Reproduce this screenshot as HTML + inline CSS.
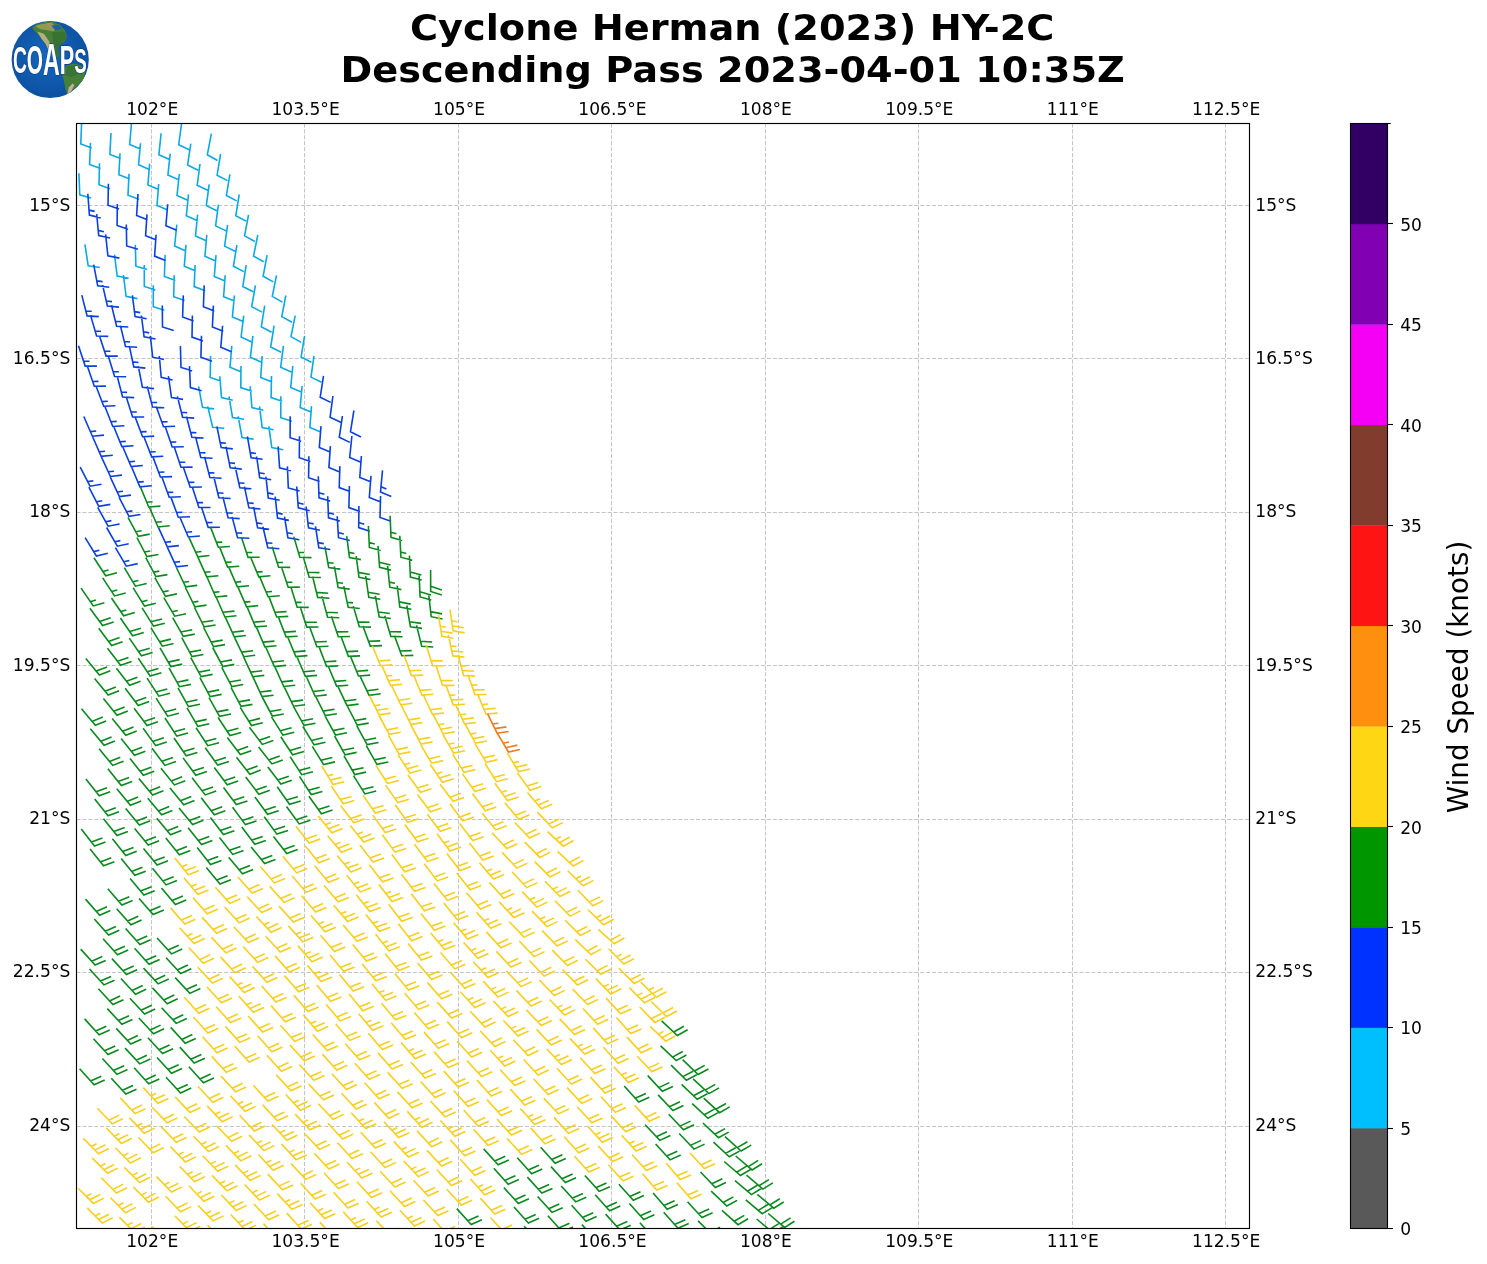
<!DOCTYPE html>
<html lang="en"><head><meta charset="utf-8"><title>Cyclone Herman (2023) HY-2C</title>
<style>html,body{margin:0;padding:0;background:#fff;}svg{display:block;will-change:transform;}</style></head>
<body>
<svg width="1487" height="1264" viewBox="0 0 1487 1264" font-family="'DejaVu Sans', 'Liberation Sans', sans-serif">
<rect x="0" y="0" width="1487" height="1264" fill="#ffffff"/>
<g id="logo">
<defs><clipPath id="globe"><circle cx="50.2" cy="59.5" r="38.6"/></clipPath><radialGradient id="sea" cx="45%" cy="45%" r="60%"><stop offset="0" stop-color="#1666bd"/><stop offset="1" stop-color="#0b4f9f"/></radialGradient></defs>
<circle cx="50.2" cy="59.5" r="38.6" fill="url(#sea)"/>
<g clip-path="url(#globe)"><polygon points="32.0,27.9 37.2,24.1 44.6,21.9 52.1,21.5 59.5,24.5 64.7,30.1 67.3,36.8 64.7,41.2 59.5,45.0 57.6,48.7 59.5,53.9 58.8,57.6 55.0,56.1 52.1,51.7 48.3,49.4 45.4,43.5 41.7,39.0 37.2,33.8" fill="#467f38"/><polygon points="52.1,32.3 64.0,31.6 66.9,36.8 64.0,41.2 59.5,45.0 57.6,48.7 59.5,53.9 58.8,57.6 55.0,56.1 53.6,45.7" fill="#3a7232"/><polygon points="37.2,31.6 43.9,33.8 49.1,41.2 52.1,50.2 48.3,49.4 45.4,43.5 41.7,39.0" fill="#b5b07a"/><polygon points="35.0,26.0 41.7,24.1 52.1,23.4 56.5,27.1 53.6,31.6 46.1,30.1 40.2,29.3" fill="#8f9a52"/><polygon points="44.6,23.4 52.1,22.6 54.3,27.1 48.3,27.5" fill="#a98f5c"/><polygon points="51.3,25.6 58.8,24.9 61.7,29.3 55.0,30.1" fill="#1e5fae"/><polygon points="66.6,65.4 74.4,63.6 81.1,65.8 85.5,71.0 84.0,78.4 78.8,85.1 72.1,90.3 67.3,94.4 65.5,89.6 64.0,81.4 62.5,75.5 63.6,69.5" fill="#467f38"/><polygon points="66.9,66.5 74.4,64.7 80.3,67.3 78.8,74.0 71.4,76.9 65.5,75.5" fill="#3a7433"/><polygon points="67.3,94.4 68.8,87.4 72.5,83.6 74.4,85.1 71.4,91.1" fill="#c4ae96"/></g>
<text transform="translate(12.9,72.6) scale(0.522,1)" paint-order="stroke" font-family="'Liberation Sans', 'DejaVu Sans', sans-serif" font-weight="bold" fill="#ffffff" stroke="#0a3470" stroke-opacity="0.75" stroke-width="1.3" stroke-linejoin="round" font-size="37"><tspan font-size="37">C</tspan><tspan font-size="40" dy="1">O</tspan><tspan font-size="44.5" dy="1.2">A</tspan><tspan font-size="41.5" dy="-0.8">P</tspan><tspan font-size="36" dy="-1.4">S</tspan></text>
</g>
<g id="title" font-weight="bold" font-size="36.3" text-anchor="middle" fill="#000">
<text transform="translate(732.2,40.4) scale(1.0545,1)">Cyclone Herman (2023) HY-2C</text>
<text transform="translate(732.6,82.0) scale(1.0545,1)">Descending Pass 2023-04-01 10:35Z</text>
</g>
<g id="grid" stroke="#9c9c9e" stroke-width="0.6" stroke-dasharray="4.1,1.8" fill="none">
<line x1="151.5" y1="123.5" x2="151.5" y2="1228.5"/>
<line x1="304.5" y1="123.5" x2="304.5" y2="1228.5"/>
<line x1="458.5" y1="123.5" x2="458.5" y2="1228.5"/>
<line x1="611.5" y1="123.5" x2="611.5" y2="1228.5"/>
<line x1="765.5" y1="123.5" x2="765.5" y2="1228.5"/>
<line x1="918.5" y1="123.5" x2="918.5" y2="1228.5"/>
<line x1="1072.5" y1="123.5" x2="1072.5" y2="1228.5"/>
<line x1="1225.5" y1="123.5" x2="1225.5" y2="1228.5"/>
<line x1="76.5" y1="205.5" x2="1249.5" y2="205.5"/>
<line x1="76.5" y1="358.5" x2="1249.5" y2="358.5"/>
<line x1="76.5" y1="512.5" x2="1249.5" y2="512.5"/>
<line x1="76.5" y1="665.5" x2="1249.5" y2="665.5"/>
<line x1="76.5" y1="819.5" x2="1249.5" y2="819.5"/>
<line x1="76.5" y1="972.5" x2="1249.5" y2="972.5"/>
<line x1="76.5" y1="1126.5" x2="1249.5" y2="1126.5"/>
</g>
<defs><clipPath id="axclip"><rect x="76.5" y="123.5" width="1173.0" height="1105.0"/></clipPath></defs>
<g id="barbs" clip-path="url(#axclip)" fill="none" stroke-width="1.6" stroke-linecap="butt" stroke-linejoin="miter">
<path stroke="#0aa9e6" d="M81.6,122.5L80.8,144.0L91.7,148.1M131.5,123.0L129.7,144.4L140.5,148.9M111.0,133.0L109.9,154.4L120.8,158.6M90.5,142.9L89.6,164.4L100.5,168.5M181.6,123.4L178.7,144.7L189.2,149.8M161.1,133.4L158.9,154.7L169.5,159.5M140.5,143.3L138.6,164.8L149.3,169.4M120.0,153.3L118.9,174.8L129.9,179.0M99.5,163.3L99.0,184.8L110.0,188.7M78.9,173.3L79.8,194.8L91.1,197.9M211.4,133.7L207.3,154.8L217.5,160.5M190.8,143.7L187.6,165.0L198.1,170.2M170.2,153.7L167.9,175.1L178.6,179.8M149.6,163.7L147.9,185.1L158.7,189.6M129.0,173.7L128.0,195.2L138.9,199.3M220.6,154.0L217.1,175.2L227.5,180.6M200.0,164.0L197.2,185.3L207.7,190.3M179.3,174.0L177.0,195.4L187.7,200.2M158.7,184.0L157.0,205.5L167.8,209.9M229.9,174.3L226.4,195.5L236.7,200.9M209.2,184.3L206.3,205.6L216.8,210.7M188.5,194.3L186.3,215.7L197.0,220.4M84.9,244.4L88.2,265.7L99.8,267.5M239.2,194.5L235.8,215.8L246.2,221.1M218.4,204.6L215.6,225.9L226.1,230.9M197.6,214.6L195.5,236.0L206.2,240.7M176.8,224.6L174.6,246.0L185.3,250.7M135.3,244.7L135.9,266.2L147.1,269.5M114.5,254.7L117.2,276.1L128.6,278.3M248.5,214.8L244.6,235.9L254.9,241.5M227.6,224.8L224.6,246.1L235.0,251.2M206.8,234.9L204.9,256.3L215.6,260.9M186.0,244.9L184.3,266.3L195.1,270.8M165.1,254.9L164.4,276.4L175.4,280.4M144.3,265.0L144.3,286.5L155.4,290.1M123.4,275.0L126.1,296.4L137.5,298.6M257.8,235.0L253.5,256.1L263.7,261.8M236.9,245.0L233.4,266.3L243.8,271.6M216.0,255.1L214.3,276.5L225.1,281.0M195.1,265.1L194.2,286.6L205.2,290.7M174.2,275.2L173.7,296.7L184.7,300.5M153.3,285.2L153.3,306.7L164.4,310.3M267.1,255.2L263.1,276.3L273.3,281.9M246.2,265.2L242.8,286.5L253.2,291.8M225.2,275.3L223.6,296.7L234.5,301.1M276.5,275.4L272.3,296.4L282.4,302.1M255.4,285.4L251.7,306.6L262.0,312.1M234.4,295.5L232.4,316.9L243.2,321.5M285.8,295.5L281.8,316.6L292.0,322.3M264.7,305.6L261.3,326.8L271.6,332.2M243.7,315.7L241.1,337.0L251.7,341.9M295.2,315.6L291.0,336.7L301.2,342.4M274.1,325.7L270.7,347.0L281.1,352.3M252.9,335.8L250.4,357.2L261.0,362.1M231.8,345.9L230.0,367.3L240.8,371.8M210.6,356.0L210.2,377.5L221.2,381.3M304.6,335.8L301.1,357.0L311.4,362.3M283.4,345.9L280.7,367.2L291.3,372.1M262.2,356.0L260.7,377.4L271.5,381.8M241.0,366.1L240.8,387.6L251.9,391.2M219.8,376.2L221.5,397.6L232.8,400.3M198.6,386.3L202.5,407.4L214.1,408.9M314.0,355.8L311.0,377.1L321.5,382.3M292.8,366.0L290.7,387.4L301.4,392.0M271.5,376.1L271.1,397.6L282.2,401.3M250.2,386.2L251.9,407.6L263.3,410.3M229.0,396.3L232.5,417.5L244.0,419.3M207.7,406.4L212.7,427.3L224.3,428.3M302.1,386.0L300.2,407.4L310.9,412.0M280.8,396.2L280.8,417.7L291.9,421.3M259.5,406.3L262.2,427.6L273.6,429.8M238.2,416.4L242.0,437.5L253.6,439.1M311.5,406.1L309.9,427.5L320.7,432.0M268.8,426.4L271.8,447.6L283.3,449.7"/>
<path stroke="#0a3fe0" d="M108.4,183.7L108.0,205.2L119.0,209.0M87.8,193.7L89.4,215.1L100.7,217.9M89.0,210.1L94.7,211.4M138.0,194.0L136.6,215.5L147.5,219.8M117.3,204.1L117.1,225.5L128.1,229.3M96.7,214.1L98.7,235.5L110.1,238.0M98.2,230.4L103.9,231.7M167.7,204.3L165.9,225.8L176.7,230.3M147.0,214.4L145.6,235.8L156.5,240.1M126.3,224.4L126.7,245.9L137.9,249.3M105.6,234.4L107.9,255.8L119.4,258.1M156.1,234.7L154.6,256.1L165.5,260.4M93.7,264.7L97.7,285.9L109.3,287.3M96.8,280.9L102.6,281.6M102.6,285.1L107.4,306.0L119.0,307.1M106.2,301.0L112.0,301.6M81.8,295.1L87.1,315.9L98.8,316.6M85.9,311.0L91.7,311.3M132.4,295.3L135.1,316.6L146.6,318.8M134.4,311.6L140.2,312.6M111.5,305.3L116.6,326.2L128.3,327.0M115.4,321.3L121.2,321.7M90.6,315.4L96.6,336.0L108.3,336.4M95.2,331.1L101.0,331.3M204.2,285.4L203.4,306.8L214.3,310.9M183.3,295.4L182.6,316.9L193.6,320.9M162.3,305.5L162.5,327.0L173.7,330.5M141.4,315.5L144.1,336.9L155.6,339.0M143.5,331.8L149.2,332.9M120.4,325.6L125.5,346.5L137.1,347.3M124.3,341.5L130.1,342.0M99.4,335.7L106.1,356.1L117.8,356.1M104.5,351.3L110.4,351.2M78.5,345.7L85.2,366.1L96.9,366.1M83.6,361.3L89.5,361.3M213.4,305.6L212.4,327.0L223.3,331.2M192.4,315.6L192.0,337.1L203.0,341.0M150.3,335.8L152.7,357.2L164.1,359.5M129.3,345.8L133.8,366.9L145.4,368.1M132.7,361.9L138.5,362.5M108.3,355.9L114.6,376.5L126.2,376.7M113.1,371.6L118.9,371.7M87.3,366.0L94.3,386.3L105.9,386.1M92.6,381.5L98.4,381.4M222.6,325.8L220.8,347.2L231.5,351.7M201.5,335.8L200.9,357.3L211.9,361.2M180.4,345.9L181.0,367.4L192.2,370.7M159.3,356.0L161.2,377.4L172.6,380.0M138.3,366.1L142.4,387.2L154.0,388.6M117.2,376.2L122.6,397.0L134.2,397.6M121.3,392.0L127.1,392.4M96.1,386.2L103.7,406.3L115.4,405.8M101.9,401.6L107.8,401.3M189.5,366.1L190.4,387.6L201.6,390.7M168.4,376.2L171.5,397.5L183.0,399.4M147.2,386.3L152.6,407.1L164.2,407.8M151.3,402.2L157.1,402.5M126.1,396.4L132.6,416.9L144.2,417.0M131.0,412.0L136.8,412.0M104.9,406.5L112.8,426.5L124.4,425.8M110.9,421.7L116.7,421.4M83.8,416.5L92.4,436.2L104.0,435.1M90.4,431.6L96.2,431.0M177.4,396.4L182.6,417.2L194.2,418.1M181.3,412.3L187.2,412.7M156.2,406.5L163.5,426.7L175.1,426.3M161.7,421.9L167.6,421.7M135.0,416.6L142.6,436.7L154.2,436.1M140.8,431.9L146.6,431.6M113.8,426.7L121.9,446.6L133.5,445.7M120.0,441.8L125.8,441.4M92.6,436.8L101.2,456.4L112.8,455.3M99.2,451.8L105.0,451.2M186.5,416.5L191.9,437.3L203.6,438.0M190.6,432.4L196.4,432.7M165.2,426.6L172.2,447.0L183.8,446.8M170.5,442.1L176.3,442.0M143.9,436.7L151.7,456.8L163.3,456.2M149.8,452.0L155.7,451.7M122.7,446.8L131.2,466.6L142.8,465.5M129.2,461.9L135.0,461.3M101.4,456.9L110.4,476.5L122.0,475.1M108.3,471.8L114.1,471.2M80.2,467.1L90.0,486.2L101.5,484.2M87.7,481.6L93.4,480.7M323.5,375.9L320.2,397.2L330.7,402.4M216.9,426.5L221.2,447.6L232.8,448.9M220.1,442.6L225.9,443.2M195.5,436.6L200.8,457.5L212.5,458.2M199.6,452.5L205.4,452.9M174.2,446.8L181.0,467.2L192.6,467.1M179.4,462.3L185.2,462.3M152.9,456.9L160.4,477.0L172.0,476.6M158.6,472.3L164.4,472.0M131.6,467.0L139.9,486.8L151.6,485.8M138.0,482.1L143.8,481.6M110.3,477.1L119.4,496.6L131.0,495.1M117.2,492.0L123.0,491.2M88.9,487.2L98.8,506.3L110.3,504.4M96.5,501.8L102.2,500.8M332.9,396.0L330.1,417.3L340.7,422.3M290.2,416.2L290.1,437.7L301.2,441.3M247.4,436.5L251.1,457.7L262.6,459.3M250.2,452.6L256.0,453.5M226.0,446.6L230.2,467.7L241.8,469.1M229.2,462.7L235.0,463.4M204.6,456.7L209.9,477.6L221.6,478.3M208.7,472.6L214.5,473.0M183.3,466.9L190.2,487.2L201.9,487.0M188.6,482.4L194.4,482.3M161.9,477.0L169.2,497.2L180.9,496.8M167.5,492.4L173.3,492.2M119.1,497.3L129.0,516.4L140.5,514.5M126.6,511.8L132.4,510.9M97.7,507.4L108.1,526.2L119.6,524.0M105.7,521.7L111.4,520.6M342.4,416.0L339.3,437.3L349.8,442.4M321.0,426.1L319.3,447.6L330.1,452.0M299.5,436.3L299.3,457.8L310.4,461.5M278.1,446.4L279.6,467.9L290.9,470.7M256.6,456.5L259.7,477.8L271.2,479.8M259.0,472.8L264.7,473.8M235.2,466.7L239.8,487.7L251.4,488.8M238.7,482.7L244.5,483.3M213.8,476.8L218.9,497.7L230.6,498.5M217.7,492.7L223.5,493.2M192.3,487.0L198.9,507.5L210.5,507.5M197.3,502.6L203.1,502.6M170.9,497.1L178.3,517.3L190.0,516.8M176.6,512.5L182.4,512.3M106.6,527.5L117.3,546.2L128.7,543.8M114.7,541.8L120.4,540.6M85.1,537.7L96.4,556.0L107.8,553.2M93.7,551.6L99.4,550.2M353.9,410.5L350.5,431.7L361.0,437.0M351.9,436.0L349.7,457.4L360.3,462.1M330.4,446.1L328.9,467.6L339.7,472.0M308.9,456.3L308.6,477.8L319.7,481.5M287.4,466.4L288.3,487.9L299.6,491.0M265.9,476.6L268.3,498.0L279.7,500.3M267.7,492.9L273.5,494.1M244.4,486.7L248.9,507.8L260.5,509.0M247.8,502.8L253.7,503.4M222.9,496.9L228.1,517.8L239.7,518.6M226.9,512.8L232.7,513.2M201.4,507.0L208.2,527.4L219.9,527.3M206.6,522.6L212.5,522.5M179.9,517.2L188.3,537.0L199.9,536.0M186.3,532.3L192.1,531.8M158.4,527.3L167.3,546.9L178.9,545.6M165.2,542.3L171.0,541.6M115.4,547.6L126.3,566.2L137.7,563.6M123.7,561.8L129.4,560.5M361.4,456.0L359.8,477.4L370.7,481.8M339.9,466.1L339.2,487.6L350.1,491.6M318.3,476.3L319.0,497.8L330.2,501.0M318.8,492.7L324.4,494.3M296.7,486.5L298.3,507.9L309.7,510.7M297.9,502.8L303.6,504.2M275.2,496.6L277.5,518.0L288.9,520.4M276.9,512.9L282.6,514.1M253.6,506.8L257.6,527.9L269.2,529.4M256.6,522.9L262.4,523.7M232.1,516.9L237.6,537.7L249.3,538.3M236.3,532.8L242.1,533.1M167.4,547.4L176.4,566.9L188.0,565.5M174.3,562.3L180.1,561.6M371.0,475.9L369.3,497.4L380.1,501.8M349.4,486.1L348.9,507.6L360.0,511.4M327.7,496.3L328.5,517.8L339.8,521.0M328.3,512.7L334.0,514.3M306.1,506.5L308.5,527.8L319.9,530.2M307.9,522.8L313.6,523.9M284.5,516.6L287.9,537.9L299.4,539.7M287.1,532.8L292.8,533.7M262.9,526.8L267.8,547.7L279.4,548.7M266.6,542.8L272.4,543.2M382.5,470.4L380.5,491.9L391.3,496.4M381.0,486.8L386.4,489.1M380.6,495.9L380.0,517.4L391.0,521.3M358.9,506.1L358.7,527.6L369.8,531.2M358.8,522.5L364.3,524.3M337.2,516.2L338.5,537.7L349.8,540.6M338.2,532.6L343.8,534.1M315.5,526.4L318.8,547.7L330.3,549.5M318.0,542.6L323.8,543.6"/>
<path stroke="#0a8a1e" d="M140.5,487.1L148.7,507.0L160.4,506.1M146.8,502.3L152.6,501.8M149.4,507.2L158.0,527.0L169.7,525.8M156.0,522.3L161.8,521.7M128.0,517.4L138.3,536.3L149.7,534.1M135.8,531.8L141.6,530.7M136.9,537.5L146.9,556.5L158.4,554.5M144.6,552.0L150.3,551.0M93.9,557.8L105.7,575.8L117.0,572.7M102.9,571.5L108.5,570.0M210.5,527.1L218.3,547.2L229.9,546.5M216.4,542.4L222.2,542.1M188.9,537.3L197.8,556.8L209.4,555.5M195.7,552.2L201.5,551.5M145.8,557.6L155.9,576.6L167.4,574.6M153.5,572.1L159.3,571.1M124.3,567.7L135.4,586.2L146.7,583.5M132.7,581.8L138.4,580.5M102.7,577.9L114.5,595.9L125.7,592.9M111.7,591.6L117.3,590.1M81.1,588.1L93.2,605.9L104.4,602.7M90.3,601.7L95.9,600.1M241.3,537.0L248.1,557.4L259.7,557.2M246.5,552.5L252.3,552.5M219.6,547.1L227.6,567.1L239.3,566.3M225.7,562.4L231.6,562.0M198.0,557.3L206.8,576.9L218.4,575.7M204.7,572.3L210.5,571.7M176.4,567.5L185.6,586.9L197.2,585.4M183.4,582.3L189.2,581.5M154.8,577.6L165.5,596.3L176.9,593.9M162.9,591.9L168.7,590.7M133.2,587.8L144.5,606.1L155.8,603.3M141.8,601.7L147.5,600.3M111.5,598.0L123.6,615.8L134.8,612.5M120.7,611.6L126.3,609.9M89.9,608.2L102.6,625.5L113.7,621.9M99.6,621.4L110.7,617.8M293.8,536.6L299.8,557.3L311.5,557.6M298.4,552.4L304.2,552.5M272.2,546.8L278.6,567.3L290.2,567.4M277.0,562.4L282.9,562.5M250.5,557.0L258.8,576.8L270.4,575.8M256.8,572.1L262.6,571.6M228.8,567.1L237.4,586.8L249.0,585.7M235.4,582.2L241.2,581.6M207.1,577.3L215.7,597.0L227.3,595.9M213.7,592.4L219.5,591.8M185.4,587.5L194.9,606.8L206.5,605.1M192.7,602.2L198.4,601.4M163.8,597.7L174.7,616.2L186.1,613.7M172.1,611.8L177.8,610.5M142.1,607.9L153.5,626.1L164.8,623.3M150.8,621.8L162.1,618.9M120.4,618.0L132.6,635.7L143.8,632.4M129.7,631.5L140.9,628.2M98.7,628.2L111.6,645.5L122.6,641.7M108.5,641.4L119.6,637.6M390.1,515.8L391.0,537.3L402.2,540.5M390.8,532.2L396.4,533.8M368.4,526.0L369.4,547.5L380.7,550.5M369.2,542.4L374.8,543.9M346.7,536.2L349.5,557.5L360.9,559.6M348.8,552.4L354.5,553.5M324.9,546.4L328.7,567.5L340.3,569.1M327.8,562.5L333.6,563.3M303.2,556.6L309.2,577.2L320.9,577.5M307.8,572.3L319.5,572.6M281.4,566.8L288.2,587.2L299.8,587.1M286.6,582.3L292.4,582.3M259.7,576.9L268.1,596.7L279.8,595.7M266.1,592.0L272.0,591.5M238.0,587.1L246.6,606.8L258.2,605.6M244.6,602.1L250.4,601.6M216.2,597.3L224.9,617.0L236.5,615.8M222.9,612.3L234.5,611.1M194.5,607.5L204.1,626.8L215.6,625.0M201.8,622.2L213.4,620.5M172.7,617.7L183.3,636.4L194.8,634.1M180.8,632.0L192.2,629.7M151.0,627.9L162.3,646.2L173.6,643.5M159.6,641.9L170.9,639.1M129.3,638.1L141.4,655.8L152.6,652.5M138.5,651.6L149.7,648.3M107.5,648.3L120.6,665.3L131.6,661.4M117.5,661.3L128.5,657.4M85.8,658.5L99.4,675.1L110.3,670.8M96.2,671.1L107.1,666.9M399.8,535.7L400.9,557.2L412.2,560.2M400.6,552.1L406.3,553.6M378.0,545.9L379.6,567.4L390.9,570.1M379.2,562.3L390.5,565.0M356.2,556.1L359.0,577.4L370.5,579.5M358.3,572.4L369.8,574.5M334.4,566.3L338.1,587.5L349.7,589.1M337.2,582.5L343.0,583.3M312.6,576.5L317.7,597.4L329.4,598.2M316.5,592.4L328.2,593.3M290.8,586.7L297.2,607.2L308.8,607.4M295.7,602.4L301.5,602.4M269.0,596.9L276.7,617.0L288.3,616.4M274.9,612.2L286.5,611.6M247.2,607.1L255.5,626.9L267.1,626.0M253.5,622.2L265.1,621.3M225.4,617.3L234.3,636.9L245.9,635.5M232.2,632.2L243.8,630.9M203.6,627.5L213.5,646.6L225.0,644.6M211.1,642.1L222.7,640.1M181.8,637.7L192.0,656.6L203.5,654.5M189.6,652.1L201.1,650.0M160.0,647.9L170.8,666.5L182.2,664.1M168.2,662.1L179.6,659.6M138.2,658.1L150.1,676.0L161.4,672.8M147.3,671.7L158.5,668.5M116.4,668.3L129.6,685.3L140.5,681.3M126.4,681.3L137.4,677.3M94.6,678.5L108.2,695.1L119.1,690.8M105.0,691.2L115.9,686.9M409.4,555.6L410.4,577.1L421.7,580.1M410.2,572.0L421.4,575.0M387.6,565.8L389.8,587.2L401.3,589.6M389.3,582.1L395.0,583.3M365.7,576.0L368.8,597.3L380.3,599.2M368.1,592.2L379.6,594.2M343.8,586.2L348.2,607.3L359.8,608.5M347.2,602.3L353.0,602.9M322.0,596.4L327.6,617.2L339.3,617.7M326.3,612.3L337.9,612.8M300.1,606.6L306.8,627.1L318.5,627.0M305.2,622.2L316.9,622.2M278.3,616.9L286.1,636.9L297.7,636.2M284.2,632.1L295.9,631.4M256.4,627.1L264.9,646.8L276.5,645.7M262.9,642.1L274.5,641.1M234.5,637.3L243.7,656.7L255.2,655.3M241.5,652.1L253.1,650.7M212.7,647.5L222.8,666.5L234.3,664.4M220.4,662.0L231.9,659.9M190.8,657.7L201.1,676.6L212.6,674.4M198.7,672.1L210.1,670.0M169.0,667.9L179.5,686.7L190.9,684.4M177.0,682.2L188.4,679.9M147.1,678.1L158.8,696.2L170.0,693.2M156.0,691.9L167.3,688.9M125.2,688.3L138.2,705.5L149.2,701.6M135.1,701.4L146.2,697.6M103.4,698.5L117.0,715.2L127.8,711.0M113.7,711.2L124.6,707.0M81.5,708.7L95.3,725.3L106.1,720.9M92.0,721.4L102.8,717.0M419.1,575.4L420.1,596.9L431.3,600.0M419.8,591.8L431.1,594.9M397.2,585.7L399.8,607.0L411.3,609.2M399.2,601.9L410.7,604.1M375.3,595.9L379.2,617.0L390.8,618.5M378.3,612.0L389.8,613.5M353.3,606.1L359.3,626.8L371.0,627.1M357.9,621.9L369.6,622.2M331.4,616.3L338.3,636.7L350.0,636.5M336.7,631.9L348.4,631.7M309.5,626.5L316.9,646.7L328.5,646.3M315.1,642.0L326.8,641.5M287.6,636.8L295.9,656.6L307.5,655.6M293.9,651.9L305.6,650.9M265.7,647.0L274.4,666.6L286.0,665.4M272.3,662.0L283.9,660.8M243.7,657.2L252.7,676.7L264.3,675.4M250.6,672.1L262.2,670.7M221.8,667.4L231.8,686.5L243.3,684.5M229.4,682.0L240.9,680.0M199.9,677.6L210.1,696.6L221.6,694.4M207.7,692.1L219.2,689.9M178.0,687.9L188.5,706.6L200.0,704.3M186.0,702.2L197.5,699.8M156.1,698.1L167.6,716.2L178.9,713.3M164.9,711.9L176.2,709.0M134.1,708.3L147.0,725.6L158.0,721.8M143.9,721.5L155.0,717.7M112.2,718.5L125.8,735.2L136.7,731.0M122.6,731.2L133.5,727.0M90.3,728.7L104.1,745.3L114.9,740.9M100.8,741.3L111.6,737.0M430.6,569.9L430.7,591.4L441.8,595.0M430.7,586.3L441.8,589.9M428.8,595.3L431.2,616.7L442.6,619.0M430.6,611.6L442.1,613.9M406.8,605.5L410.4,626.7L422.0,628.4M409.6,621.7L421.1,623.4M384.8,615.7L390.8,636.4L402.5,636.7M389.4,631.5L401.1,631.9M362.9,626.0L370.3,646.1L382.0,645.6M368.6,641.3L380.2,640.9M340.9,636.2L348.4,656.4L360.0,655.9M346.6,651.6L358.2,651.1M318.9,646.4L326.6,666.5L338.2,665.9M324.8,661.8L336.4,661.1M296.9,656.7L305.4,676.4L317.0,675.4M303.4,671.7L315.0,670.7M274.9,666.9L283.7,686.5L295.3,685.3M281.6,681.9L293.2,680.6M253.0,677.1L262.0,696.6L273.6,695.2M259.9,692.0L271.5,690.6M231.0,687.4L241.0,706.4L252.5,704.4M238.6,701.9L250.1,699.9M209.0,697.6L219.5,716.3L231.0,714.0M217.0,711.9L228.5,709.6M187.0,707.8L197.9,726.3L209.3,723.8M195.4,721.9L206.7,719.4M165.0,718.0L176.8,736.1L188.0,733.0M174.0,731.8L185.2,728.8M143.1,728.3L155.8,745.6L166.8,742.0M152.7,741.5L163.8,737.8M121.1,738.5L134.5,755.3L145.4,751.2M131.3,751.3L142.2,747.3M99.1,748.7L112.7,765.4L123.6,761.2M109.5,761.4L120.3,757.2M416.5,625.3L421.7,646.2L433.3,647.0M420.5,641.3L432.1,642.0M394.4,635.6L401.8,655.8L413.4,655.4M400.0,651.0L411.7,650.6M350.4,656.1L358.5,676.0L370.2,675.1M356.6,671.2L368.2,670.4M328.3,666.3L336.6,686.1L348.2,685.2M334.6,681.4L346.3,680.5M306.3,676.5L315.1,696.2L326.7,694.9M313.0,691.5L324.6,690.3M284.2,686.8L293.5,706.2L305.1,704.7M291.3,701.6L302.9,700.1M262.2,697.0L272.3,716.0L283.8,714.0M269.9,711.5L281.4,709.5M240.2,707.3L251.5,725.5L262.8,722.7M248.8,721.2L260.1,718.4M218.1,717.5L229.9,735.5L241.2,732.4M227.1,731.2L238.4,728.2M196.1,727.7L207.8,745.7L219.1,742.7M205.1,741.5L216.3,738.4M174.0,738.0L186.2,755.7L197.4,752.4M183.4,751.5L194.5,748.2M152.0,748.2L164.9,765.4L176.0,761.6M161.9,761.3L172.9,757.5M130.0,758.5L143.3,775.3L154.2,771.3M140.1,771.3L151.1,767.3M107.9,768.7L121.3,785.5L132.2,781.4M118.1,781.5L129.1,777.4M85.9,778.9L99.2,795.8L110.1,791.8M96.0,791.8L107.0,787.8M359.9,675.9L369.1,695.3L380.7,693.8M367.0,690.7L378.5,689.2M337.8,686.2L347.0,705.6L358.6,704.1M344.8,701.0L356.4,699.5M315.7,696.4L325.3,715.6L336.9,713.8M323.0,711.1L334.6,709.3M293.6,706.7L304.0,725.4L315.5,723.2M301.5,721.0L313.0,718.7M271.5,716.9L283.0,735.1L294.3,732.2M280.3,730.8L291.6,727.8M249.4,727.2L262.3,744.4L273.3,740.6M259.2,740.3L270.2,736.5M227.3,737.4L240.3,754.5L251.3,750.7M237.2,750.5L248.2,746.6M205.2,747.7L217.7,765.1L228.9,761.5M214.8,761.0L225.9,757.4M183.1,757.9L195.8,775.2L206.9,771.5M192.8,771.1L203.9,767.4M161.0,768.2L174.4,784.9L185.3,780.8M171.2,780.9L182.2,776.8M138.9,778.4L152.6,795.0L163.4,790.7M149.3,791.1L160.2,786.8M116.8,788.7L130.4,805.3L141.2,801.1M127.1,801.4L138.0,797.1M94.7,798.9L108.0,815.8L119.0,811.7M104.9,811.8L115.8,807.7M347.3,706.0L357.2,725.1L368.7,723.1M354.8,720.5L366.3,718.6M325.1,716.2L335.5,735.0L347.0,732.8M333.1,730.6L344.5,728.3M302.9,726.5L314.1,744.9L325.5,742.2M311.5,740.5L322.8,737.8M280.8,736.8L292.6,754.7L303.9,751.6M289.8,750.4L301.1,747.3M258.6,747.0L271.9,763.9L282.8,759.9M268.7,759.9L279.7,755.9M236.5,757.3L249.8,774.2L260.7,770.1M246.6,770.1L257.6,766.1M214.3,767.5L227.2,784.7L238.2,781.0M224.1,780.7L235.2,776.9M192.1,777.8L205.2,794.9L216.2,791.0M202.1,790.8L213.1,786.9M170.0,788.1L183.7,804.7L194.5,800.4M180.4,800.7L191.3,796.4M147.8,798.3L161.6,814.8L172.4,810.5M158.3,810.9L169.2,806.5M125.7,808.6L139.4,825.1L150.2,820.8M136.1,821.2L147.0,816.9M103.5,818.8L117.0,835.6L127.9,831.5M113.8,831.6L124.7,827.5M81.3,829.1L94.5,846.1L105.5,842.1M91.4,842.0L102.4,838.1M356.8,725.8L367.1,744.6L378.6,742.5M364.7,740.2L376.1,738.0M334.6,736.0L345.1,754.8L356.6,752.4M342.6,750.3L354.1,748.0M312.3,746.3L323.6,764.6L335.0,761.9M320.9,760.3L332.3,757.5M290.1,756.6L301.7,774.7L313.0,771.7M299.0,770.4L310.3,767.4M267.9,766.9L280.8,784.1L291.8,780.3M277.7,780.0L288.8,776.2M245.7,777.1L258.8,794.2L269.8,790.3M255.7,790.1L266.7,786.2M223.5,787.4L236.3,804.6L247.4,800.9M233.3,800.5L244.3,796.8M201.2,797.7L214.3,814.7L225.3,810.8M211.2,810.7L222.2,806.8M179.0,807.9L192.6,824.6L203.5,820.3M189.4,820.6L200.3,816.4M156.8,818.2L170.5,834.7L181.4,830.4M167.3,830.8L178.1,826.5M134.6,828.5L148.3,845.1L159.1,840.8M145.0,841.1L155.9,836.8M112.4,838.7L125.8,855.5L136.7,851.3M122.6,851.5L133.5,847.4M90.1,849.0L103.5,865.8L114.4,861.8M100.3,861.9L111.3,857.8M366.3,745.6L376.9,764.3L388.3,762.0M374.4,759.9L385.8,757.5M344.0,755.8L354.7,774.5L366.1,772.1M352.2,770.1L363.6,767.7M299.5,776.4L311.2,794.5L322.4,791.4M308.4,790.2L319.7,787.2M277.2,786.7L289.5,804.3L300.7,800.9M286.6,800.1L297.8,796.7M254.9,797.0L267.6,814.3L278.7,810.7M264.6,810.2L275.7,806.6M232.6,807.2L245.4,824.6L256.5,820.9M242.4,820.5L253.4,816.8M210.4,817.5L223.4,834.6L234.4,830.8M220.3,830.6L231.3,826.7M188.1,827.8L201.5,844.6L212.4,840.5M198.3,840.6L209.2,836.5M165.8,838.1L179.4,854.8L190.3,850.5M176.2,850.8L187.0,846.6M143.5,848.4L157.1,865.0L168.0,860.8M153.9,861.1L164.7,856.9M121.2,858.6L134.8,875.3L145.7,871.2M131.6,871.4L142.5,867.2M353.5,775.6L364.9,793.9L376.2,791.0M362.2,789.5L373.5,786.7M308.9,796.2L321.4,813.7L332.5,810.1M318.4,809.5L329.5,806.0M286.5,806.5L299.2,823.9L310.3,820.2M296.2,819.7L307.3,816.1M264.2,816.8L276.9,834.1L288.0,830.4M273.9,830.0L285.0,826.3M241.8,827.1L254.8,844.2L265.8,840.4M251.7,840.2L262.7,836.4M219.5,837.4L232.7,854.4L243.6,850.4M229.5,850.3L240.5,846.4M197.2,847.6L210.5,864.5L221.5,860.4M207.4,860.5L218.3,856.4M152.5,868.2L166.1,884.9L177.0,880.6M162.9,880.9L173.7,876.7M130.1,878.5L143.9,895.0L154.7,890.7M140.6,891.1L151.5,886.8M107.8,888.8L121.9,905.1L132.6,900.6M118.5,901.2L129.3,896.7M85.5,899.1L99.7,915.2L110.4,910.6M96.3,911.4L107.0,906.7M273.5,836.6L286.7,853.5L297.7,849.5M283.6,849.5L294.6,845.5M251.1,846.9L264.6,863.6L275.5,859.5M261.4,859.6L272.3,855.5M228.7,857.2L242.4,873.8L253.2,869.5M239.1,869.8L250.0,865.5M206.3,867.5L220.0,884.0L230.9,879.7M216.8,880.1L227.6,875.7M161.5,888.1L175.4,904.5L186.2,900.0M172.1,900.6L182.9,896.1M139.1,898.4L153.1,914.6L163.9,910.1M149.8,910.8L160.6,906.3M116.7,908.7L130.9,924.8L141.6,920.1M127.6,920.9L138.3,916.3M94.3,919.0L108.6,935.0L119.3,930.2M105.2,931.2L115.9,926.4M125.6,928.5L139.9,944.5L150.6,939.8M136.5,940.7L147.2,936.0M103.1,938.8L117.5,954.8L128.2,950.1M114.1,951.0L124.8,946.3M80.7,949.1L95.1,965.1L105.7,960.4M91.7,961.3L102.3,956.6M157.1,938.0L171.5,953.9L182.2,949.1M168.1,950.1L178.7,945.3M134.6,948.3L149.0,964.3L159.6,959.5M145.5,960.5L156.2,955.7M112.0,958.6L126.4,974.6L137.1,969.8M123.0,970.8L133.7,966.0M89.5,969.0L103.9,984.9L114.6,980.2M100.5,981.1L111.1,976.4M166.1,957.8L180.7,973.6L191.3,968.7M177.2,969.9L187.8,965.0M143.5,968.1L158.1,983.9L168.7,979.1M154.6,980.2L165.2,975.3M120.9,978.5L135.5,994.2L146.1,989.3M132.1,990.5L142.7,985.6M98.4,988.8L112.9,1004.6L123.5,999.8M109.5,1000.9L120.1,996.0M175.2,977.6L189.8,993.4L200.4,988.5M186.3,989.6L196.9,984.7M152.5,987.9L167.2,1003.7L177.7,998.8M163.7,999.9L174.3,995.0M129.9,998.2L144.6,1014.0L155.1,1009.0M141.1,1010.2L151.7,1005.3M107.3,1008.6L121.9,1024.3L132.5,1019.4M118.4,1020.6L129.0,1015.7M84.6,1018.9L99.1,1034.8L109.8,1029.9M95.7,1031.0L106.3,1026.2M161.6,1007.7L176.2,1023.4L186.8,1018.5M172.7,1019.7L183.3,1014.8M138.9,1018.0L153.5,1033.8L164.1,1028.8M150.1,1030.0L160.6,1025.1M116.2,1028.4L130.8,1044.1L141.4,1039.2M127.3,1040.4L137.9,1035.5M93.5,1038.7L108.0,1054.6L118.6,1049.7M104.6,1050.8L115.2,1046.0M170.7,1027.4L185.2,1043.2L195.8,1038.4M181.7,1039.5L192.4,1034.6M147.9,1037.8L162.5,1053.6L173.1,1048.7M159.0,1049.8L169.6,1044.9M125.1,1048.1L139.7,1063.9L150.3,1059.1M136.2,1060.2L146.9,1055.3M102.4,1058.5L116.9,1074.4L127.5,1069.5M113.4,1070.6L124.1,1065.8M79.6,1068.8L94.1,1084.8L104.7,1080.0M90.6,1081.0L101.3,1076.2M179.8,1047.1L194.2,1063.0L204.9,1058.2M190.8,1059.2L201.4,1054.4M157.0,1057.5L171.5,1073.3L182.1,1068.5M168.0,1069.6L178.6,1064.7M134.1,1067.8L148.7,1083.7L159.3,1078.9M145.2,1079.9L155.8,1075.1M111.3,1078.2L125.8,1094.1L136.5,1089.2M122.4,1090.3L133.0,1085.5M188.9,1066.8L203.4,1082.7L214.0,1077.9M200.0,1078.9L210.6,1074.1M166.0,1077.2L180.6,1093.0L191.2,1088.1M177.2,1089.2L187.8,1084.4M661.6,1020.9L677.4,1035.5L687.6,1029.7M673.7,1032.0L683.8,1026.3M660.6,1045.8L676.2,1060.6L686.4,1055.0M672.5,1057.1L682.7,1051.5M671.1,1065.1L686.4,1080.2L696.7,1074.8M682.8,1076.6L693.1,1071.2M647.7,1075.6L662.3,1091.3L672.9,1086.4M658.8,1087.6L669.4,1082.6M624.2,1086.0L638.7,1102.0L649.3,1097.2M635.2,1098.2L645.9,1093.4M483.7,1148.9L498.1,1164.8L508.8,1160.1M494.7,1161.0L505.3,1156.3M682.6,1059.6L698.1,1074.5L708.4,1069.0M694.4,1071.0L704.7,1065.4M681.6,1084.4L697.2,1099.3L707.4,1093.7M693.5,1095.7L703.8,1090.2M658.1,1094.9L672.9,1110.5L683.5,1105.5M669.4,1106.8L680.0,1101.8M540.7,1147.3L555.1,1163.3L565.8,1158.5M551.7,1159.5L562.4,1154.7M517.3,1157.8L531.7,1173.7L542.3,1169.0M528.2,1170.0L538.9,1165.2M493.8,1168.3L508.2,1184.2L518.8,1179.5M504.8,1180.4L515.4,1175.7M693.1,1078.9L708.9,1093.6L719.1,1087.9M705.1,1090.1L715.3,1084.4M692.2,1103.7L708.0,1118.3L718.2,1112.6M704.3,1114.8L714.4,1109.1M668.7,1114.2L683.5,1129.8L694.0,1124.7M680.0,1126.1L690.5,1121.1M645.1,1124.7L659.8,1140.4L670.4,1135.5M656.3,1136.7L666.9,1131.8M551.0,1166.6L565.4,1182.6L576.0,1177.8M562.0,1178.8L572.6,1174.0M527.4,1177.1L541.8,1193.1L552.5,1188.4M538.4,1189.3L549.1,1184.6M503.9,1187.6L518.3,1203.6L528.9,1198.8M514.9,1199.8L525.5,1195.1M456.8,1208.6L471.2,1224.5L481.9,1219.8M467.8,1220.8L478.5,1216.0M703.7,1098.2L719.6,1112.7L729.7,1106.9M715.8,1109.3L726.0,1103.5M702.9,1123.0L718.5,1137.7L728.7,1132.1M714.8,1134.2L725.0,1128.6M679.2,1133.5L694.0,1149.1L704.6,1144.1M690.5,1145.4L701.1,1140.4M655.6,1144.0L670.1,1159.9L680.7,1155.1M666.7,1156.1L677.3,1151.3M584.9,1175.5L599.2,1191.4L609.9,1186.7M595.8,1187.7L606.5,1182.9M561.2,1186.0L575.7,1201.9L586.3,1197.2M572.2,1198.2L582.9,1193.4M537.6,1196.5L552.0,1212.4L562.7,1207.7M548.6,1208.7L559.3,1203.9M514.0,1207.0L528.4,1223.0L539.1,1218.2M525.0,1219.2L535.7,1214.4M713.5,1142.2L729.3,1156.8L739.5,1151.1M725.6,1153.4L735.7,1147.7M618.9,1184.3L633.3,1200.3L643.9,1195.5M629.9,1196.5L640.5,1191.7M595.2,1194.8L609.6,1210.8L620.3,1206.0M606.2,1207.0L616.9,1202.2M571.6,1205.3L586.0,1221.3L596.6,1216.5M582.5,1217.5L593.2,1212.7M547.9,1215.8L562.3,1231.8L573.0,1227.0M558.9,1228.0L569.5,1223.2M524.2,1226.3L538.6,1242.3L549.3,1237.5M535.2,1238.5L545.9,1233.7M725.0,1136.7L741.1,1151.0L751.2,1145.1M737.3,1147.6L747.4,1141.7M724.2,1161.5L740.5,1175.5L750.5,1169.5M736.7,1172.2L746.6,1166.1M700.5,1172.0L715.4,1187.5L725.9,1182.5M711.8,1183.8L722.4,1178.8M653.1,1193.0L667.2,1209.2L677.9,1204.6M663.9,1205.4L674.6,1200.8M629.4,1203.5L643.7,1219.5L654.4,1214.8M640.3,1215.7L651.0,1211.0M605.6,1214.1L620.0,1230.0L630.7,1225.3M616.6,1226.2L627.3,1221.5M581.9,1224.6L596.3,1240.5L607.0,1235.8M592.9,1236.8L603.6,1232.0M735.7,1156.0L752.1,1169.9L762.1,1163.7M748.3,1166.6L758.2,1160.4M735.0,1180.7L751.4,1194.6L761.3,1188.5M747.5,1191.3L757.4,1185.2M711.2,1191.2L726.8,1206.0L737.1,1200.4M723.1,1202.5L733.4,1196.9M687.5,1201.7L702.0,1217.6L712.6,1212.7M698.5,1213.8L709.1,1209.0M663.7,1212.3L678.0,1228.3L688.7,1223.5M674.6,1224.5L685.3,1219.7M639.9,1222.8L654.3,1238.7L664.9,1234.0M650.9,1235.0L661.5,1230.2M746.5,1175.2L762.9,1189.1L772.8,1182.9M759.0,1185.8L768.9,1179.6M745.8,1199.8L762.2,1213.7L772.2,1207.6M758.3,1210.4L768.3,1204.3M722.0,1210.4L738.0,1224.7L748.1,1218.8M734.2,1221.3L744.3,1215.4M698.1,1220.9L713.4,1236.1L723.7,1230.8M709.7,1232.5L720.1,1227.2M757.3,1194.3L773.8,1208.2L783.7,1202.0M769.9,1204.9L779.8,1198.7M756.7,1219.0L773.1,1232.9L783.0,1226.7M769.2,1229.6L779.1,1223.4M768.2,1213.5L784.6,1227.4L794.5,1221.2M780.7,1224.1L790.6,1217.9"/>
<path stroke="#f7cf1c" d="M438.5,615.1L441.9,636.3L453.4,638.2M441.1,631.3L452.6,633.1M440.3,626.3L446.1,627.2M372.4,645.8L380.6,665.7L392.2,664.8M378.6,661.0L390.3,660.1M450.0,609.6L453.1,630.9L464.6,632.9M452.3,625.8L463.8,627.8M451.6,620.8L457.4,621.8M448.3,634.9L452.9,655.9L464.5,657.0M451.8,650.9L463.4,652.0M450.7,645.9L456.5,646.5M426.2,645.2L432.7,665.7L444.3,665.7M431.1,660.8L442.8,660.9M404.1,655.4L411.5,675.6L423.2,675.1M409.8,670.8L421.4,670.3M382.0,665.7L390.5,685.4L402.2,684.3M388.5,680.7L400.1,679.6M386.5,676.0L392.3,675.5M458.1,654.7L463.5,675.5L475.2,676.1M462.2,670.5L473.9,671.2M460.9,665.6L466.7,665.9M435.9,664.9L442.5,685.4L454.2,685.4M440.9,680.5L452.6,680.6M413.7,675.2L421.9,695.1L433.5,694.2M419.9,690.4L431.6,689.5M391.6,685.5L400.9,704.8L412.4,703.3M398.7,700.2L410.2,698.7M369.4,695.7L379.2,714.9L390.7,713.1M376.8,710.3L388.4,708.5M374.5,705.8L380.3,704.9M467.9,674.4L475.0,694.7L486.6,694.5M473.3,689.9L484.9,689.7M471.6,685.1L477.4,685.0M445.7,684.7L453.3,704.8L465.0,704.2M451.5,700.0L463.2,699.4M449.7,695.3L455.5,695.0M423.4,695.0L432.5,714.4L444.1,713.0M430.4,709.8L442.0,708.4M401.2,705.2L410.9,724.4L422.4,722.6M408.6,719.9L420.1,718.1M379.0,715.5L389.2,734.4L400.7,732.3M386.8,729.9L398.3,727.8M477.7,694.2L485.9,714.0L497.6,713.1M484.0,709.3L495.6,708.4M482.0,704.6L487.9,704.1M455.4,704.4L464.5,723.9L476.1,722.5M462.4,719.3L473.9,717.9M460.2,714.7L466.0,714.0M433.2,714.7L443.2,733.8L454.7,731.8M440.8,729.2L452.3,727.3M438.4,724.7L444.2,723.7M410.9,725.0L421.0,744.0L432.5,741.9M418.6,739.5L430.1,737.4M388.6,735.3L399.0,754.1L410.5,751.9M396.5,749.6L408.0,747.4M321.8,766.1L333.0,784.5L344.3,781.7M330.3,780.1L341.7,777.4M327.7,775.8L333.3,774.4M465.2,724.2L475.5,743.1L487.0,741.0M473.1,738.6L484.5,736.5M470.6,734.1L476.4,733.0M442.9,734.5L453.6,753.1L465.0,750.7M451.1,748.7L462.5,746.3M448.5,744.3L454.3,743.0M420.6,744.7L431.6,763.2L443.0,760.6M429.0,758.8L440.4,756.2M398.2,755.0L409.9,773.1L421.2,770.1M407.1,768.8L418.4,765.8M404.4,764.5L410.0,763.0M375.9,765.3L387.5,783.4L398.8,780.5M384.7,779.1L396.0,776.2M331.2,785.9L343.2,803.8L354.4,800.6M340.3,799.5L351.6,796.4M174.8,857.9L188.3,874.7L199.2,870.5M185.1,870.7L196.0,866.5M181.9,866.7L187.4,864.6M475.1,743.9L486.2,762.3L497.5,759.6M483.5,757.9L494.9,755.3M452.7,754.2L464.0,772.4L475.4,769.6M461.4,768.1L472.7,765.3M430.3,764.5L442.5,782.2L453.7,778.8M439.6,778.0L450.8,774.6M436.7,773.8L442.3,772.1M407.9,774.8L420.4,792.3L431.5,788.8M417.4,788.1L428.5,784.6M385.5,785.1L397.9,802.6L409.0,799.2M395.0,798.5L406.1,795.0M363.1,795.4L375.3,813.0L386.5,809.7M372.4,808.8L383.6,805.5M340.7,805.7L353.8,822.7L364.8,818.7M350.7,818.6L361.7,814.7M318.3,816.0L331.8,832.7L342.7,828.5M328.6,828.7L339.5,824.5M325.4,824.7L330.9,822.6M295.9,826.3L309.2,843.1L320.2,839.0M306.1,839.1L317.0,835.0M183.9,877.8L197.7,894.2L208.5,889.9M194.4,890.3L205.2,886.0M191.2,886.4L196.6,884.2M507.4,753.2L518.6,771.6L529.9,769.0M515.9,767.3L527.3,764.6M513.3,762.9L519.0,761.6M485.0,763.5L496.5,781.7L507.8,778.8M493.7,777.4L505.0,774.5M462.5,773.9L474.9,791.5L486.0,788.0M471.9,787.3L483.1,783.8M440.0,784.2L453.1,801.2L464.1,797.4M450.0,797.2L461.0,793.3M417.6,794.5L430.4,811.7L441.4,808.0M427.4,807.7L438.4,803.9M395.1,804.8L407.7,822.3L418.8,818.7M404.7,818.1L415.8,814.6M372.7,815.1L385.3,832.5L396.4,828.9M382.3,828.4L393.4,824.8M350.2,825.4L363.7,842.1L374.6,838.0M360.5,838.2L371.4,834.0M357.3,834.2L362.8,832.1M327.7,835.7L341.5,852.3L352.3,847.9M338.2,848.3L349.1,844.0M335.0,844.4L340.4,842.2M305.3,846.0L318.9,862.7L329.8,858.4M315.7,858.7L326.5,854.5M282.8,856.3L296.6,872.9L307.4,868.5M293.3,868.9L304.1,864.6M260.4,866.6L274.4,882.9L285.2,878.4M271.1,879.0L281.8,874.5M237.9,877.0L252.2,893.1L262.9,888.4M248.8,889.2L259.5,884.6M215.4,887.3L229.7,903.4L240.4,898.8M226.3,899.6L237.0,894.9M193.0,897.6L207.2,913.7L217.9,909.0M203.8,909.9L214.5,905.2M170.5,907.9L184.8,924.0L195.5,919.3M181.4,920.1L192.1,915.5M517.4,772.9L530.1,790.2L541.2,786.6M527.1,786.1L538.2,782.5M494.9,783.2L507.5,800.6L518.6,797.0M504.5,796.5L515.6,792.8M501.5,792.3L507.1,790.5M472.4,793.5L485.2,810.7L496.3,807.0M482.2,806.7L493.2,802.9M449.8,803.8L462.9,820.9L473.9,817.1M459.8,816.9L470.8,813.0M427.3,814.2L440.3,831.3L451.3,827.5M437.2,827.3L448.2,823.4M404.8,824.5L417.5,841.8L428.6,838.2M414.5,837.7L425.6,834.1M382.3,834.8L395.0,852.1L406.1,848.4M392.0,848.0L403.1,844.3M359.8,845.1L373.1,862.0L384.0,857.9M369.9,858.0L380.9,853.9M337.2,855.4L350.9,872.1L361.7,867.8M347.6,868.1L358.5,863.9M344.4,864.2L349.8,862.1M314.7,865.8L328.5,882.3L339.3,877.9M325.2,878.4L336.1,874.0M292.2,876.1L306.2,892.4L317.0,887.8M302.9,888.5L313.7,884.0M269.7,886.4L284.0,902.4L294.7,897.7M280.6,898.6L291.3,893.9M247.2,896.7L261.7,912.6L272.3,907.7M258.3,908.8L268.9,903.9M224.6,907.0L239.1,922.9L249.7,918.1M235.7,919.2L246.3,914.4M202.1,917.4L216.6,933.2L227.2,928.4M213.2,929.5L223.8,924.6M179.6,927.7L194.1,943.5L204.8,938.6M190.7,939.8L201.3,934.9M187.2,936.0L192.5,933.6M527.4,792.5L541.4,808.8L552.2,804.3M538.1,805.0L548.8,800.5M534.7,801.1L540.1,798.8M504.8,802.8L518.8,819.2L529.5,814.7M515.4,815.3L526.2,810.9M482.2,813.2L495.8,829.9L506.7,825.7M492.6,825.9L503.4,821.7M459.6,823.5L472.7,840.6L483.7,836.7M469.6,836.5L480.6,832.7M437.1,833.8L450.0,851.0L461.1,847.1M447.0,846.9L458.0,843.1M443.9,842.8L449.4,840.9M414.5,844.2L427.3,861.4L438.4,857.7M424.3,857.3L435.3,853.6M391.9,854.5L404.7,871.8L415.8,868.0M401.7,867.7L412.7,863.9M369.3,864.8L382.5,881.8L393.5,877.9M379.4,877.8L390.3,873.9M346.7,875.2L360.3,891.9L371.2,887.7M357.1,887.9L368.0,883.7M353.9,883.9L359.3,881.8M324.2,885.5L338.1,901.8L348.9,897.4M334.8,898.0L345.6,893.5M301.6,895.8L315.7,912.0L326.4,907.5M312.3,908.2L323.1,903.6M279.0,906.1L293.4,922.1L304.0,917.4M290.0,918.3L300.6,913.6M256.4,916.5L271.0,932.2L281.6,927.4M267.6,928.5L278.2,923.6M264.1,924.8L269.4,922.3M233.8,926.8L248.4,942.6L259.0,937.8M244.9,938.9L255.6,934.0M211.3,937.1L225.9,952.9L236.5,948.0M222.4,949.2L233.0,944.2M188.7,947.5L203.3,963.2L213.9,958.3M199.9,959.5L210.4,954.6M537.4,812.1L552.3,827.7L562.8,822.6M548.7,824.0L559.3,818.9M514.8,822.5L529.6,838.0L540.1,833.0M526.1,834.3L536.6,829.3M492.1,832.8L506.7,848.6L517.3,843.8M503.2,844.9L513.8,840.0M469.5,843.1L482.8,860.0L493.8,855.9M479.7,856.0L490.6,851.9M446.9,853.5L460.0,870.5L471.0,866.6M456.9,866.5L467.9,862.5M424.2,863.8L437.2,880.9L448.2,877.1M434.1,876.9L445.2,873.0M401.6,874.2L414.5,891.3L425.5,887.5M411.4,887.3L422.5,883.5M378.9,884.5L392.0,901.5L403.0,897.6M388.9,897.5L399.9,893.6M385.8,893.5L391.3,891.5M356.3,894.8L369.8,911.6L380.7,907.4M366.6,907.6L377.5,903.4M363.4,903.6L368.8,901.6M333.7,905.2L347.6,921.6L358.4,917.1M344.3,917.7L355.1,913.2M341.0,913.8L346.4,911.6M311.0,915.5L325.1,931.8L335.9,927.2M321.8,927.9L332.5,923.3M318.4,924.1L323.8,921.8M288.4,925.9L302.7,941.9L313.3,937.3M299.3,938.1L310.0,933.4M295.9,934.3L301.2,932.0M265.7,936.2L280.2,952.1L290.9,947.3M276.8,948.3L287.4,943.5M243.1,946.5L257.6,962.4L268.2,957.6M254.2,958.6L264.8,953.8M220.5,956.9L235.1,972.7L245.7,967.8M231.6,968.9L242.2,964.0M197.8,967.2L212.5,983.0L223.0,978.1M209.0,979.2L219.6,974.3M547.5,831.7L563.3,846.2L573.5,840.5M559.6,842.8L569.7,837.0M555.8,839.3L560.9,836.5M524.8,842.1L539.9,857.4L550.3,852.1M536.3,853.7L546.7,848.5M502.1,852.4L516.8,868.1L527.4,863.1M513.3,864.4L523.9,859.4M479.4,862.8L493.4,879.1L504.2,874.6M490.1,875.2L500.8,870.7M486.7,871.3L492.1,869.1M456.7,873.1L470.2,889.8L481.1,885.6M467.0,885.9L477.9,881.7M434.0,883.5L447.3,900.4L458.2,896.3M444.1,896.4L455.1,892.3M411.3,893.8L424.4,910.8L435.4,906.9M421.3,906.8L432.3,902.9M388.6,904.2L401.8,921.2L412.7,917.2M398.6,917.1L409.6,913.2M365.9,914.5L379.3,931.3L390.2,927.2M376.1,927.3L387.1,923.2M372.9,923.3L378.4,921.3M343.2,924.9L357.0,941.3L367.8,937.0M353.7,937.4L364.5,933.1M320.5,935.2L334.5,951.5L345.3,947.0M331.2,947.6L341.9,943.1M297.8,945.6L311.9,961.7L322.7,957.1M308.6,957.9L319.3,953.3M305.2,954.1L310.6,951.8M275.1,955.9L289.4,972.0L300.1,967.3M286.0,968.1L296.7,963.5M252.4,966.3L266.8,982.2L277.4,977.5M263.4,978.4L274.0,973.7M229.7,976.6L244.2,992.5L254.8,987.6M240.8,988.7L251.4,983.9M237.3,984.9L242.6,982.5M207.0,987.0L221.5,1002.8L232.1,997.9M218.1,999.0L228.7,994.2M184.3,997.3L198.8,1013.2L209.4,1008.3M195.4,1009.4L206.0,1004.5M557.6,851.3L573.2,866.0L583.5,860.4M569.5,862.5L579.8,856.9M534.8,861.6L550.0,876.9L560.4,871.6M546.4,873.3L556.8,868.0M512.1,872.0L526.8,887.6L537.4,882.6M523.3,883.9L533.9,878.9M489.3,882.4L503.8,898.3L514.4,893.4M500.3,894.5L511.0,889.7M466.5,892.7L480.5,909.0L491.3,904.5M477.2,905.2L488.0,900.7M443.8,903.1L457.4,919.7L468.3,915.4M454.2,915.8L465.0,911.5M421.0,913.4L434.4,930.2L445.3,926.1M431.2,926.3L442.2,922.2M398.3,923.8L411.6,940.7L422.5,936.6M408.4,936.7L419.4,932.6M375.5,934.1L388.9,950.9L399.8,946.8M385.7,947.0L396.7,942.8M382.6,943.0L388.0,940.9M352.7,944.5L366.4,961.1L377.3,956.9M363.2,957.2L374.0,952.9M330.0,954.9L343.8,971.3L354.6,966.9M340.5,967.4L351.4,963.0M307.2,965.2L321.2,981.5L332.0,977.1M317.9,977.7L328.7,973.2M314.6,973.8L320.0,971.6M284.5,975.6L298.6,991.8L309.3,987.2M295.2,988.0L306.0,983.4M261.7,986.0L275.9,1002.1L286.6,997.4M272.6,998.2L283.3,993.6M238.9,996.3L253.3,1012.3L264.0,1007.6M249.9,1008.5L260.6,1003.8M246.5,1004.7L251.8,1002.4M216.2,1006.7L230.6,1022.6L241.2,1017.9M227.2,1018.8L237.8,1014.1M193.4,1017.0L207.9,1033.0L218.5,1028.2M204.4,1029.2L215.1,1024.4M567.7,870.8L583.1,885.8L593.4,880.4M579.5,882.3L589.8,876.8M575.8,878.7L581.0,876.0M544.9,881.2L560.0,896.5L570.4,891.3M556.4,892.9L566.8,887.6M552.8,889.2L558.0,886.6M522.1,891.6L536.9,907.1L547.4,902.1M533.4,903.4L543.9,898.4M529.9,899.7L535.1,897.2M499.3,901.9L513.9,917.6L524.5,912.7M510.5,913.9L521.0,908.9M507.0,910.2L512.3,907.7M476.4,912.3L490.8,928.3L501.4,923.6M487.4,924.5L498.0,919.8M484.0,920.7L489.3,918.4M453.6,922.7L467.6,939.0L478.4,934.5M464.3,935.1L475.1,930.6M461.0,931.2L466.4,929.0M430.8,933.0L444.5,949.6L455.4,945.3M441.3,945.7L452.1,941.4M438.0,941.7L443.4,939.6M408.0,943.4L421.5,960.1L432.4,955.9M418.3,956.1L429.2,951.9M385.2,953.8L398.7,970.5L409.6,966.3M395.5,966.5L406.4,962.4M362.3,964.1L375.9,980.8L386.8,976.6M372.7,976.9L383.6,972.6M339.5,974.5L353.2,991.1L364.1,986.7M350.0,987.1L360.8,982.8M316.7,984.9L330.6,1001.3L341.4,996.9M327.3,997.4L338.1,993.0M293.9,995.3L307.9,1011.6L318.7,1007.1M304.6,1007.7L315.3,1003.2M271.1,1005.6L285.2,1021.8L295.9,1017.2M281.8,1018.0L292.6,1013.4M248.2,1016.0L262.5,1032.1L273.2,1027.5M259.1,1028.3L269.8,1023.6M225.4,1026.4L239.7,1042.4L250.4,1037.7M236.3,1038.6L247.0,1033.9M202.6,1036.7L217.0,1052.7L227.6,1048.0M213.6,1048.9L224.2,1044.2M577.9,890.3L592.9,905.7L603.4,900.6M589.3,902.1L599.8,896.9M555.0,900.7L570.0,916.1L580.5,910.9M566.5,912.4L576.9,907.3M532.1,911.1L547.0,926.6L557.5,921.6M543.4,923.0L554.0,917.9M539.9,919.3L545.2,916.7M509.2,921.5L524.0,937.1L534.5,932.2M520.5,933.4L531.0,928.4M486.4,931.9L500.9,947.7L511.5,942.9M497.4,944.0L508.1,939.1M463.5,942.2L477.8,958.3L488.5,953.6M474.4,954.5L485.1,949.8M471.0,950.7L476.3,948.3M440.6,952.6L454.7,968.9L465.4,964.3M451.3,965.0L462.1,960.5M417.7,963.0L431.6,979.5L442.4,975.1M428.3,975.6L439.1,971.2M394.8,973.4L408.5,990.0L419.4,985.7M405.3,986.0L416.1,981.7M372.0,983.8L385.6,1000.4L396.5,996.1M382.4,996.4L393.2,992.2M379.1,992.5L384.6,990.4M349.1,994.1L362.8,1010.7L373.7,1006.3M359.6,1006.7L370.4,1002.4M326.2,1004.5L340.1,1020.9L350.9,1016.5M336.8,1017.0L347.6,1012.6M303.3,1014.9L317.4,1031.2L328.1,1026.6M314.1,1027.3L324.8,1022.8M310.7,1023.4L316.1,1021.2M280.4,1025.3L294.7,1041.4L305.4,1036.8M291.3,1037.6L302.0,1032.9M257.6,1035.7L271.9,1051.7L282.5,1047.0M268.5,1047.9L279.2,1043.2M234.7,1046.0L249.0,1062.1L259.7,1057.3M245.6,1058.3L256.3,1053.5M211.8,1056.4L226.2,1072.4L236.9,1067.6M222.8,1068.6L233.4,1063.8M143.2,1087.6L157.8,1103.3L168.4,1098.4M154.3,1099.6L164.9,1094.7M150.8,1095.8L156.1,1093.4M120.3,1097.9L135.0,1113.6L145.5,1108.7M131.5,1109.9L142.1,1105.0M97.4,1108.3L112.2,1123.9L122.8,1118.8M108.7,1120.2L119.2,1115.1M588.1,909.8L603.5,924.8L613.8,919.3M599.9,921.3L610.2,915.8M596.2,917.7L601.4,915.0M565.1,920.2L580.4,935.4L590.8,930.0M576.8,931.8L587.2,926.4M542.2,930.6L557.2,946.0L567.7,940.9M553.6,942.4L564.1,937.2M519.3,941.0L534.1,956.6L544.6,951.6M530.5,952.9L541.1,947.9M496.3,951.4L511.0,967.1L521.6,962.2M507.5,963.4L518.1,958.5M473.4,961.8L487.9,977.6L498.5,972.8M484.5,973.9L495.1,969.0M481.0,970.1L486.3,967.7M450.4,972.2L464.8,988.2L475.5,983.4M461.4,984.4L472.1,979.6M427.5,982.6L441.6,998.8L452.4,994.2M438.3,994.9L449.0,990.4M404.6,993.0L418.5,1009.4L429.3,1004.9M415.2,1005.5L426.0,1001.0M381.6,1003.3L395.4,1019.8L406.3,1015.5M392.2,1015.9L403.0,1011.5M358.7,1013.7L372.6,1030.2L383.4,1025.8M369.3,1026.3L380.1,1021.9M366.0,1022.4L371.4,1020.2M335.7,1024.1L349.8,1040.4L360.6,1035.9M346.5,1036.5L357.2,1032.0M312.8,1034.5L327.1,1050.6L337.8,1045.9M323.7,1046.8L334.4,1042.1M289.9,1044.9L304.3,1060.8L314.9,1056.1M300.9,1057.1L311.5,1052.3M266.9,1055.3L281.4,1071.2L292.0,1066.4M278.0,1067.4L288.6,1062.6M221.0,1076.1L235.6,1091.9L246.2,1087.1M232.1,1088.2L242.7,1083.3M198.1,1086.5L212.8,1102.2L223.3,1097.3M209.3,1098.5L219.9,1093.5M175.2,1096.9L189.9,1112.5L200.5,1107.5M186.4,1108.8L197.0,1103.8M152.2,1107.2L167.0,1122.9L177.5,1117.9M163.5,1119.2L174.0,1114.2M129.3,1117.6L144.2,1133.2L154.7,1128.1M140.6,1129.5L151.1,1124.4M137.1,1125.8L142.4,1123.3M106.3,1128.0L121.4,1143.4L131.8,1138.2M117.8,1139.8L128.3,1134.6M114.3,1136.1L119.5,1133.5M83.4,1138.4L98.5,1153.7L108.9,1148.5M94.9,1150.1L105.4,1144.8M91.3,1146.5L96.6,1143.8M598.3,929.3L614.2,943.8L624.4,938.0M610.4,940.4L620.6,934.6M575.3,939.7L590.9,954.6L601.1,949.1M587.2,951.1L597.5,945.5M552.3,950.1L567.4,965.5L577.8,960.3M563.8,961.8L574.3,956.6M529.3,960.5L544.2,976.1L554.7,971.0M540.7,972.4L551.2,967.3M506.3,970.9L521.1,986.6L531.6,981.6M517.6,982.9L528.1,977.9M483.3,981.3L498.0,997.1L508.6,992.1M494.5,993.3L505.1,988.4M491.0,989.6L496.3,987.1M460.3,991.7L474.9,1007.5L485.5,1002.7M471.4,1003.8L482.0,998.9M468.0,1000.0L473.3,997.6M437.3,1002.1L451.7,1018.1L462.3,1013.4M448.3,1014.3L458.9,1009.6M414.3,1012.5L428.4,1028.7L439.2,1024.2M425.1,1024.9L435.8,1020.3M391.3,1022.9L405.3,1039.2L416.1,1034.8M402.0,1035.4L412.8,1030.9M368.3,1033.3L382.4,1049.6L393.1,1045.1M379.0,1045.7L389.8,1041.2M345.3,1043.7L359.6,1059.8L370.3,1055.2M356.2,1056.0L366.9,1051.3M322.3,1054.1L336.8,1070.0L347.4,1065.2M333.4,1066.2L344.0,1061.4M299.3,1064.5L313.9,1080.3L324.5,1075.4M310.5,1076.6L321.1,1071.7M276.3,1074.9L290.9,1090.7L301.5,1085.8M287.5,1086.9L298.1,1082.0M253.3,1085.3L267.9,1101.1L278.5,1096.2M264.5,1097.4L275.1,1092.5M230.3,1095.7L245.0,1111.4L255.6,1106.5M241.5,1107.7L252.1,1102.8M238.0,1104.0L243.3,1101.5M207.3,1106.1L222.2,1121.7L232.7,1116.6M218.6,1118.0L229.2,1113.0M215.1,1114.3L220.4,1111.8M184.3,1116.5L199.2,1132.0L209.7,1127.0M195.7,1128.4L206.2,1123.3M161.3,1126.9L176.2,1142.4L186.7,1137.3M172.7,1138.8L183.2,1133.7M138.3,1137.3L153.3,1152.7L163.8,1147.6M149.8,1149.1L160.2,1143.9M115.3,1147.7L130.5,1163.0L140.9,1157.7M126.9,1159.4L137.3,1154.1M123.3,1155.7L128.5,1153.1M92.3,1158.1L107.5,1173.3L117.9,1168.1M103.9,1169.7L114.3,1164.4M100.3,1166.1L105.5,1163.5M608.6,948.8L623.8,964.0L634.2,958.6M620.2,960.4L630.6,955.0M616.6,956.8L621.8,954.1M585.5,959.2L600.8,974.3L611.2,969.0M597.2,970.7L607.6,965.4M562.5,969.6L577.5,985.0L588.0,979.8M573.9,981.3L584.4,976.2M539.4,980.0L554.3,995.5L564.8,990.4M550.8,991.8L561.3,986.7M516.4,990.4L531.1,1006.0L541.7,1001.0M527.6,1002.3L538.2,997.3M493.3,1000.8L508.0,1016.5L518.5,1011.6M504.5,1012.8L515.1,1007.9M501.0,1009.1L506.3,1006.6M470.2,1011.2L484.9,1027.0L495.5,1022.1M481.4,1023.3L492.0,1018.3M447.2,1021.6L461.6,1037.6L472.3,1032.8M458.2,1033.8L468.9,1029.0M424.1,1032.1L438.4,1048.2L449.1,1043.5M435.0,1044.3L445.7,1039.7M401.1,1042.5L415.2,1058.7L425.9,1054.1M411.9,1054.8L422.6,1050.2M408.5,1051.0L413.9,1048.7M378.0,1052.9L392.2,1069.0L402.9,1064.4M388.8,1065.2L399.6,1060.6M354.9,1063.3L369.3,1079.3L380.0,1074.5M365.9,1075.5L376.6,1070.7M331.9,1073.7L346.5,1089.5L357.1,1084.6M343.0,1085.8L353.6,1080.9M308.8,1084.1L323.5,1099.8L334.1,1094.9M320.0,1096.1L330.6,1091.2M285.8,1094.5L300.4,1110.3L311.0,1105.3M296.9,1106.5L307.5,1101.6M293.5,1102.8L298.8,1100.3M262.7,1104.9L277.3,1120.7L287.9,1115.8M273.9,1116.9L284.5,1112.0M239.6,1115.3L254.4,1131.0L264.9,1126.0M250.9,1127.3L261.4,1122.3M216.6,1125.8L231.5,1141.3L242.0,1136.2M227.9,1137.6L238.4,1132.5M193.5,1136.2L208.5,1151.6L218.9,1146.5M204.9,1148.0L215.4,1142.8M201.4,1144.3L206.6,1141.7M170.5,1146.6L185.4,1162.0L195.9,1156.9M181.8,1158.4L192.3,1153.3M178.3,1154.7L183.6,1152.1M124.3,1167.4L139.5,1182.6L149.9,1177.3M135.9,1179.0L146.3,1173.7M132.3,1175.4L137.5,1172.8M101.3,1177.8L116.5,1193.0L126.9,1187.7M112.9,1189.4L123.3,1184.1M78.2,1188.2L93.4,1203.4L103.8,1198.1M89.8,1199.8L100.2,1194.5M86.2,1196.2L91.4,1193.6M618.9,968.2L634.1,983.4L644.5,978.1M630.5,979.8L640.9,974.5M595.8,978.6L610.8,994.0L621.3,988.8M607.3,990.4L617.7,985.2M603.7,986.7L608.9,984.1M572.7,989.1L587.6,1004.5L598.1,999.4M584.1,1000.9L594.5,995.8M549.6,999.5L564.5,1015.0L575.0,1009.9M560.9,1011.3L571.4,1006.2M557.4,1007.6L562.6,1005.1M526.4,1009.9L541.2,1025.5L551.8,1020.5M537.7,1021.8L548.3,1016.8M503.3,1020.3L518.0,1036.0L528.6,1031.1M514.5,1032.3L525.1,1027.4M511.0,1028.6L516.3,1026.1M480.2,1030.7L494.8,1046.5L505.4,1041.6M491.4,1042.8L501.9,1037.8M457.1,1041.2L471.6,1057.0L482.2,1052.2M468.1,1053.3L478.8,1048.5M434.0,1051.6L448.3,1067.6L459.0,1062.9M444.9,1063.8L455.6,1059.1M410.8,1062.0L425.1,1078.1L435.8,1073.4M421.7,1074.3L432.4,1069.6M387.7,1072.4L402.1,1088.4L412.7,1083.7M398.7,1084.6L409.3,1079.9M364.6,1082.8L379.1,1098.8L389.7,1094.0M375.6,1095.0L386.3,1090.2M341.5,1093.3L356.1,1109.1L366.7,1104.2M352.6,1105.3L363.2,1100.4M318.4,1103.7L333.0,1119.4L343.6,1114.5M329.5,1115.7L340.1,1110.8M295.2,1114.1L309.9,1129.8L320.5,1124.9M306.4,1126.1L317.0,1121.2M302.9,1122.4L308.2,1119.9M272.1,1124.5L286.8,1140.3L297.3,1135.3M283.3,1136.5L293.9,1131.6M279.8,1132.8L285.1,1130.3M249.0,1134.9L263.8,1150.6L274.3,1145.6M260.3,1146.9L270.8,1141.9M256.8,1143.2L262.0,1140.7M225.9,1145.4L240.8,1160.9L251.3,1155.8M237.2,1157.2L247.7,1152.1M233.7,1153.5L239.0,1151.0M202.8,1155.8L217.7,1171.2L228.2,1166.1M214.1,1167.6L224.6,1162.5M210.6,1163.9L215.8,1161.4M179.6,1166.2L194.6,1181.7L205.1,1176.6M191.0,1178.0L201.5,1172.9M187.5,1174.3L192.7,1171.8M156.5,1176.6L171.5,1192.0L182.0,1186.9M167.9,1188.4L178.4,1183.2M164.4,1184.7L169.6,1182.1M133.4,1187.0L148.5,1202.3L159.0,1197.0M145.0,1198.7L155.4,1193.4M141.4,1195.1L146.6,1192.4M110.3,1197.5L125.5,1212.7L135.9,1207.4M121.9,1209.1L132.3,1203.8M118.3,1205.5L123.5,1202.8M87.2,1207.9L102.3,1223.1L112.7,1217.8M98.7,1219.5L109.1,1214.2M95.1,1215.9L100.3,1213.2M629.3,987.6L644.5,1002.8L654.9,997.5M640.9,999.2L651.3,993.9M637.3,995.6L642.5,992.9M606.1,998.1L620.7,1013.8L631.3,1008.9M617.2,1010.1L627.8,1005.2M582.9,1008.5L597.6,1024.2L608.1,1019.3M594.1,1020.5L604.7,1015.6M559.7,1018.9L574.5,1034.5L585.1,1029.5M571.0,1030.8L581.6,1025.8M536.6,1029.4L551.3,1045.0L561.9,1040.0M547.8,1041.3L558.4,1036.3M513.4,1039.8L528.1,1055.5L538.6,1050.5M524.6,1051.8L535.1,1046.8M490.2,1050.2L504.8,1066.0L515.4,1061.1M501.3,1062.3L511.9,1057.4M497.9,1058.5L503.2,1056.1M467.0,1060.6L481.5,1076.5L492.1,1071.7M478.1,1072.8L488.7,1068.0M443.8,1071.1L458.2,1087.1L468.9,1082.3M454.8,1083.3L465.5,1078.5M420.7,1081.5L435.1,1097.5L445.7,1092.7M431.6,1093.7L442.3,1088.9M397.5,1091.9L412.0,1107.8L422.6,1103.0M408.5,1104.1L419.2,1099.2M374.3,1102.4L388.8,1118.2L399.4,1113.3M385.4,1114.4L396.0,1109.6M351.1,1112.8L365.7,1128.6L376.3,1123.7M362.2,1124.9L372.8,1120.0M358.8,1121.1L364.1,1118.7M327.9,1123.2L342.6,1139.0L353.1,1134.1M339.1,1135.3L349.7,1130.3M304.8,1133.7L319.4,1149.4L330.0,1144.5M315.9,1145.7L326.5,1140.8M281.6,1144.1L296.2,1159.8L306.8,1154.9M292.7,1156.1L303.3,1151.2M289.3,1152.4L294.6,1149.9M258.4,1154.5L273.1,1170.2L283.7,1165.2M269.6,1166.5L280.2,1161.5M266.1,1162.7L271.4,1160.3M235.2,1164.9L250.1,1180.5L260.6,1175.4M246.6,1176.8L257.1,1171.7M243.0,1173.1L248.3,1170.6M212.0,1175.4L226.9,1190.9L237.4,1185.8M223.4,1187.2L233.9,1182.1M219.9,1183.5L225.1,1181.0M188.9,1185.8L203.8,1201.3L214.3,1196.2M200.2,1197.6L210.7,1192.5M196.7,1193.9L201.9,1191.4M165.7,1196.2L180.6,1211.7L191.1,1206.6M177.1,1208.0L187.6,1202.9M119.3,1217.1L134.5,1232.4L144.9,1227.1M130.9,1228.7L141.3,1223.5M127.3,1225.1L132.5,1222.5M640.8,982.1L656.2,997.2L666.5,991.7M652.5,993.6L662.8,988.2M648.9,990.0L654.0,987.3M639.7,1007.0L654.7,1022.4L665.2,1017.2M651.2,1018.7L661.6,1013.5M616.4,1017.5L630.7,1033.5L641.4,1028.9M627.3,1029.7L638.0,1025.0M593.2,1027.9L607.6,1043.9L618.2,1039.1M604.2,1040.1L614.8,1035.3M569.9,1038.4L584.6,1054.1L595.2,1049.2M581.1,1050.4L591.7,1045.4M577.6,1046.6L582.9,1044.2M546.7,1048.8L561.4,1064.5L572.0,1059.5M557.9,1060.8L568.5,1055.8M554.4,1057.0L559.7,1054.6M523.5,1059.2L538.1,1075.0L548.7,1070.1M534.6,1071.3L545.2,1066.3M500.2,1069.7L514.8,1085.5L525.4,1080.7M511.3,1081.8L521.9,1076.9M477.0,1080.1L491.4,1096.0L502.1,1091.3M488.0,1092.3L498.6,1087.5M453.7,1090.6L468.2,1106.5L478.8,1101.7M464.7,1102.7L475.4,1098.0M430.5,1101.0L445.0,1116.9L455.6,1112.0M441.6,1113.1L452.2,1108.3M407.3,1111.4L421.9,1127.2L432.5,1122.3M418.4,1123.5L429.0,1118.6M414.9,1119.7L420.2,1117.3M384.0,1121.9L398.6,1137.6L409.2,1132.7M395.2,1133.9L405.8,1129.0M391.7,1130.2L397.0,1127.7M360.8,1132.3L375.4,1148.1L386.0,1143.2M371.9,1144.3L382.5,1139.5M337.5,1142.8L352.1,1158.6L362.7,1153.7M348.7,1154.8L359.3,1149.9M314.3,1153.2L328.9,1169.0L339.5,1164.1M325.4,1165.2L336.0,1160.4M291.1,1163.6L305.6,1179.4L316.2,1174.5M302.2,1175.7L312.8,1170.8M267.8,1174.1L282.5,1189.8L293.1,1184.9M279.0,1186.1L289.6,1181.1M244.6,1184.5L259.4,1200.1L269.9,1195.1M255.9,1196.4L266.4,1191.4M252.4,1192.7L257.6,1190.2M221.3,1195.0L236.2,1210.5L246.7,1205.4M232.7,1206.8L243.2,1201.7M229.2,1203.1L234.4,1200.6M198.1,1205.4L213.0,1220.9L223.5,1215.9M209.4,1217.2L219.9,1212.2M205.9,1213.6L211.2,1211.0M174.9,1215.8L189.7,1231.3L200.3,1226.3M186.2,1227.7L196.7,1222.6M182.7,1224.0L187.9,1221.4M151.6,1226.3L166.6,1241.7L177.1,1236.6M163.0,1238.0L173.5,1232.9M159.5,1234.4L164.7,1231.8M651.2,1001.5L666.6,1016.5L676.9,1011.0M662.9,1013.0L673.2,1007.5M650.1,1026.4L665.7,1041.2L675.9,1035.6M662.0,1037.7L672.2,1032.1M658.3,1034.2L663.4,1031.4M626.8,1036.9L641.3,1052.7L652.0,1047.8M637.9,1048.9L648.5,1044.1M603.5,1047.3L618.0,1063.2L628.6,1058.4M614.5,1059.4L625.2,1054.6M580.2,1057.8L594.8,1073.6L605.4,1068.7M591.3,1069.8L601.9,1064.9M556.9,1068.2L571.5,1084.0L582.1,1079.1M568.0,1080.3L578.6,1075.4M533.6,1078.7L548.1,1094.5L558.7,1089.6M544.7,1090.7L555.3,1085.9M510.3,1089.1L524.8,1105.0L535.4,1100.2M521.3,1101.2L532.0,1096.4M487.0,1099.6L501.4,1115.5L512.1,1110.7M498.0,1111.7L508.6,1107.0M463.7,1110.0L478.1,1126.0L488.8,1121.2M474.7,1122.2L485.3,1117.4M440.4,1120.5L454.9,1136.3L465.5,1131.5M451.5,1132.6L462.1,1127.7M448.0,1128.8L453.3,1126.4M417.1,1130.9L431.7,1146.7L442.3,1141.7M428.3,1142.9L438.8,1138.0M393.8,1141.4L408.4,1157.1L419.0,1152.2M405.0,1153.4L415.5,1148.4M401.5,1149.6L406.8,1147.2M370.5,1151.8L385.1,1167.6L395.7,1162.6M381.7,1163.8L392.2,1158.9M347.2,1162.3L361.8,1178.1L372.4,1173.2M358.3,1174.3L368.9,1169.4M354.9,1170.6L360.2,1168.1M323.9,1172.7L338.4,1188.6L349.0,1183.7M335.0,1184.8L345.6,1179.9M300.6,1183.2L315.1,1199.0L325.7,1194.2M311.7,1195.3L322.3,1190.4M277.3,1193.6L291.9,1209.4L302.5,1204.5M288.4,1205.7L299.0,1200.8M285.0,1201.9L290.3,1199.5M254.0,1204.1L268.7,1219.8L279.2,1214.8M265.2,1216.0L275.8,1211.1M230.7,1214.5L245.4,1230.2L256.0,1225.2M241.9,1226.4L252.5,1221.5M238.4,1222.7L243.7,1220.2M207.4,1225.0L222.2,1240.6L232.7,1235.6M218.7,1236.9L229.2,1231.9M215.2,1233.2L220.4,1230.7M637.2,1056.2L652.0,1071.8L662.5,1066.8M648.5,1068.1L659.0,1063.1M613.8,1066.7L628.4,1082.5L639.0,1077.7M624.9,1078.8L635.5,1073.9M621.5,1075.0L626.8,1072.6M590.5,1077.1L605.0,1093.0L615.6,1088.2M601.6,1089.2L612.2,1084.4M567.1,1087.6L581.7,1103.4L592.3,1098.6M578.2,1099.7L588.8,1094.8M543.8,1098.1L558.3,1113.9L568.9,1109.1M554.8,1110.2L565.4,1105.4M520.4,1108.5L534.8,1124.5L545.5,1119.7M531.4,1120.7L542.0,1115.9M528.0,1116.9L533.3,1114.5M497.0,1119.0L511.4,1135.0L522.1,1130.2M508.0,1131.2L518.7,1126.4M473.7,1129.4L488.1,1145.4L498.7,1140.7M484.7,1141.6L495.3,1136.9M450.3,1139.9L464.8,1155.8L475.4,1151.0M461.4,1152.0L472.0,1147.2M427.0,1150.4L441.6,1166.1L452.2,1161.2M438.1,1162.4L448.7,1157.5M403.6,1160.8L418.3,1176.6L428.8,1171.6M414.8,1172.8L425.4,1167.9M411.3,1169.1L416.6,1166.6M380.2,1171.3L394.9,1187.0L405.5,1182.1M391.4,1183.3L402.0,1178.4M356.9,1181.7L371.5,1197.5L382.1,1192.7M368.0,1193.8L378.6,1188.9M333.5,1192.2L348.0,1208.1L358.6,1203.3M344.6,1204.3L355.2,1199.5M310.2,1202.7L324.6,1218.6L335.3,1213.8M321.2,1214.8L331.8,1210.0M317.8,1211.0L323.1,1208.6M286.8,1213.1L301.3,1229.0L311.9,1224.2M297.8,1225.3L308.5,1220.4M263.4,1223.6L278.0,1239.4L288.6,1234.6M274.5,1235.7L285.1,1230.8M271.1,1231.9L276.4,1229.5M600.8,1096.5L615.3,1112.4L625.9,1107.6M611.9,1108.6L622.5,1103.8M577.4,1107.0L591.9,1122.8L602.5,1118.0M588.5,1119.1L599.1,1114.2M554.0,1117.4L568.4,1133.4L579.1,1128.5M565.0,1129.6L575.6,1124.8M530.6,1127.9L545.0,1143.9L555.6,1139.1M541.5,1140.1L552.2,1135.3M507.1,1138.4L521.5,1154.4L532.2,1149.6M518.1,1150.6L528.8,1145.8M460.3,1159.3L474.7,1175.3L485.4,1170.5M471.3,1171.5L481.9,1166.7M436.9,1169.8L451.4,1185.6L462.0,1180.7M448.0,1181.9L458.6,1177.0M413.5,1180.3L428.1,1196.0L438.7,1191.1M424.6,1192.3L435.2,1187.4M390.0,1190.7L404.6,1206.5L415.2,1201.6M401.2,1202.8L411.8,1197.9M366.6,1201.2L381.2,1217.0L391.8,1212.2M377.7,1213.3L388.3,1208.4M374.3,1209.5L379.6,1207.1M343.2,1211.7L357.6,1227.6L368.3,1222.8M354.2,1223.8L364.9,1219.0M350.8,1220.0L356.1,1217.6M319.8,1222.1L334.2,1238.1L344.8,1233.4M330.7,1234.3L341.4,1229.6M327.3,1230.5L332.7,1228.2M634.7,1105.4L649.2,1121.2L659.8,1116.4M645.7,1117.5L656.4,1112.6M611.2,1115.9L625.7,1131.7L636.3,1126.9M622.2,1128.0L632.9,1123.1M587.7,1126.3L602.2,1142.2L612.8,1137.4M598.8,1138.4L609.4,1133.6M595.3,1134.7L600.6,1132.3M564.2,1136.8L578.7,1152.7L589.3,1147.9M575.3,1148.9L585.9,1144.1M470.3,1178.7L484.7,1194.7L495.4,1189.9M481.3,1190.9L491.9,1186.1M477.9,1187.1L483.2,1184.7M446.8,1189.2L461.3,1205.1L471.9,1200.3M457.9,1201.3L468.5,1196.5M423.3,1199.7L437.9,1215.5L448.5,1210.7M434.4,1211.8L445.1,1206.9M399.9,1210.2L414.4,1226.0L425.0,1221.1M411.0,1222.2L421.6,1217.4M407.5,1218.5L412.8,1216.1M376.4,1220.7L390.9,1236.5L401.5,1231.7M387.4,1232.8L398.1,1228.0M621.6,1135.2L636.1,1151.0L646.7,1146.2M632.7,1147.3L643.3,1142.4M629.2,1143.5L634.5,1141.1M598.1,1145.7L612.5,1161.6L623.2,1156.7M609.1,1157.8L619.7,1153.0M574.5,1156.2L588.9,1172.1L599.6,1167.3M585.5,1168.3L596.2,1163.5M480.4,1198.1L494.7,1214.1L505.4,1209.3M491.3,1210.3L502.0,1205.5M433.3,1219.1L447.7,1235.0L458.4,1230.2M444.3,1231.2L454.9,1226.4M632.0,1154.5L646.4,1170.5L657.1,1165.7M643.0,1166.7L653.7,1161.9M608.5,1165.0L622.9,1180.9L633.5,1176.2M619.4,1177.1L630.1,1172.4M490.5,1217.5L504.8,1233.5L515.5,1228.7M501.4,1229.7L512.1,1224.9M689.9,1152.7L704.3,1168.6L715.0,1163.8M700.9,1164.9L711.5,1160.1M666.2,1163.2L680.2,1179.6L690.9,1175.1M676.9,1175.7L687.6,1171.3M642.5,1173.8L656.7,1190.0L667.4,1185.4M653.3,1186.1L664.1,1181.5M676.8,1182.5L690.8,1198.8L701.6,1194.3M687.5,1194.9L698.3,1190.4"/>
<path stroke="#ee7b1c" d="M487.6,713.9L497.1,733.2L508.6,731.5M494.8,728.6L506.4,726.9M492.6,724.0L498.3,723.2M497.5,733.6L508.5,752.0L519.9,749.5M505.9,747.7L517.3,745.1M503.3,743.3L509.0,742.0"/>
</g>
<rect x="76.5" y="123.5" width="1173.0" height="1105.0" fill="none" stroke="#000" stroke-width="1.15"/>
<g id="ticks" font-size="17.1" fill="#000">
<text x="152.2" y="114.5" text-anchor="middle">102°E</text>
<text x="152.2" y="1246.9" text-anchor="middle">102°E</text>
<text x="305.6" y="114.5" text-anchor="middle">103.5°E</text>
<text x="305.6" y="1246.9" text-anchor="middle">103.5°E</text>
<text x="459.1" y="114.5" text-anchor="middle">105°E</text>
<text x="459.1" y="1246.9" text-anchor="middle">105°E</text>
<text x="612.5" y="114.5" text-anchor="middle">106.5°E</text>
<text x="612.5" y="1246.9" text-anchor="middle">106.5°E</text>
<text x="765.9" y="114.5" text-anchor="middle">108°E</text>
<text x="765.9" y="1246.9" text-anchor="middle">108°E</text>
<text x="919.3" y="114.5" text-anchor="middle">109.5°E</text>
<text x="919.3" y="1246.9" text-anchor="middle">109.5°E</text>
<text x="1072.8" y="114.5" text-anchor="middle">111°E</text>
<text x="1072.8" y="1246.9" text-anchor="middle">111°E</text>
<text x="1226.2" y="114.5" text-anchor="middle">112.5°E</text>
<text x="1226.2" y="1246.9" text-anchor="middle">112.5°E</text>
<text x="70.3" y="210.6" text-anchor="end">15°S</text>
<text x="1255.3" y="210.6" text-anchor="start">15°S</text>
<text x="70.3" y="363.9" text-anchor="end">16.5°S</text>
<text x="1255.3" y="363.9" text-anchor="start">16.5°S</text>
<text x="70.3" y="517.3" text-anchor="end">18°S</text>
<text x="1255.3" y="517.3" text-anchor="start">18°S</text>
<text x="70.3" y="670.6" text-anchor="end">19.5°S</text>
<text x="1255.3" y="670.6" text-anchor="start">19.5°S</text>
<text x="70.3" y="823.9" text-anchor="end">21°S</text>
<text x="1255.3" y="823.9" text-anchor="start">21°S</text>
<text x="70.3" y="977.2" text-anchor="end">22.5°S</text>
<text x="1255.3" y="977.2" text-anchor="start">22.5°S</text>
<text x="70.3" y="1130.6" text-anchor="end">24°S</text>
<text x="1255.3" y="1130.6" text-anchor="start">24°S</text>
</g>
<g id="cbar">
<rect x="1350.5" y="1128.05" width="37.0" height="100.75" fill="#595959"/>
<rect x="1350.5" y="1027.59" width="37.0" height="100.75" fill="#00bfff"/>
<rect x="1350.5" y="927.14" width="37.0" height="100.75" fill="#0032ff"/>
<rect x="1350.5" y="826.68" width="37.0" height="100.75" fill="#009600"/>
<rect x="1350.5" y="726.23" width="37.0" height="100.75" fill="#ffd614"/>
<rect x="1350.5" y="625.77" width="37.0" height="100.75" fill="#ff8f0f"/>
<rect x="1350.5" y="525.32" width="37.0" height="100.75" fill="#ff1414"/>
<rect x="1350.5" y="424.86" width="37.0" height="100.75" fill="#823c2d"/>
<rect x="1350.5" y="324.41" width="37.0" height="100.75" fill="#f500f5"/>
<rect x="1350.5" y="223.95" width="37.0" height="100.75" fill="#8200b4"/>
<rect x="1350.5" y="123.50" width="37.0" height="100.75" fill="#320064"/>
<rect x="1350.5" y="123.5" width="37.0" height="1105.0" fill="none" stroke="#000" stroke-width="1.1"/>
<g font-size="17.1" fill="#000" stroke="none">
<line x1="1387.5" y1="1228.5" x2="1393.0" y2="1228.5" stroke="#000" stroke-width="1.1"/>
<text x="1400.2" y="1235.3">0</text>
<line x1="1387.5" y1="1128.5" x2="1393.0" y2="1128.5" stroke="#000" stroke-width="1.1"/>
<text x="1400.2" y="1134.8">5</text>
<line x1="1387.5" y1="1027.5" x2="1393.0" y2="1027.5" stroke="#000" stroke-width="1.1"/>
<text x="1400.2" y="1034.4">10</text>
<line x1="1387.5" y1="927.5" x2="1393.0" y2="927.5" stroke="#000" stroke-width="1.1"/>
<text x="1400.2" y="933.9">15</text>
<line x1="1387.5" y1="826.5" x2="1393.0" y2="826.5" stroke="#000" stroke-width="1.1"/>
<text x="1400.2" y="833.5">20</text>
<line x1="1387.5" y1="726.5" x2="1393.0" y2="726.5" stroke="#000" stroke-width="1.1"/>
<text x="1400.2" y="733.0">25</text>
<line x1="1387.5" y1="625.5" x2="1393.0" y2="625.5" stroke="#000" stroke-width="1.1"/>
<text x="1400.2" y="632.6">30</text>
<line x1="1387.5" y1="525.5" x2="1393.0" y2="525.5" stroke="#000" stroke-width="1.1"/>
<text x="1400.2" y="532.1">35</text>
<line x1="1387.5" y1="424.5" x2="1393.0" y2="424.5" stroke="#000" stroke-width="1.1"/>
<text x="1400.2" y="431.7">40</text>
<line x1="1387.5" y1="324.5" x2="1393.0" y2="324.5" stroke="#000" stroke-width="1.1"/>
<text x="1400.2" y="331.2">45</text>
<line x1="1387.5" y1="223.5" x2="1393.0" y2="223.5" stroke="#000" stroke-width="1.1"/>
<text x="1400.2" y="230.8">50</text>
</g>
<line x1="1387.5" y1="123.5" x2="1390.7" y2="123.5" stroke="#000" stroke-width="1.1"/>
<text transform="translate(1467.5,677) rotate(-90)" font-size="27.8" text-anchor="middle" fill="#000">Wind Speed (knots)</text>
</g>
</svg>
</body></html>
